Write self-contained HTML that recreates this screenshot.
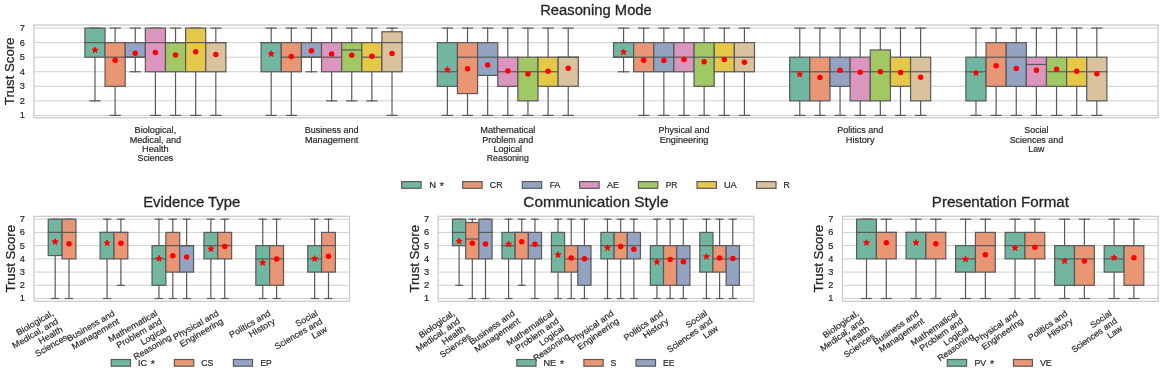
<!DOCTYPE html>
<html><head><meta charset="utf-8"><title>Trust Score boxplots</title><style>html,body{margin:0;padding:0;background:#fff;width:1163px;height:377px;overflow:hidden;position:relative}text{font-family:"Liberation Sans",sans-serif}</style></head><body>
<svg width="1163" height="377" viewBox="0 0 1163 377" style="position:absolute;left:0;top:0;will-change:transform" font-family="Liberation Sans, sans-serif">
<rect width="1163" height="377" fill="#ffffff"/>
<line x1="34.00" y1="115.40" x2="1158.00" y2="115.40" stroke="#cfcfcf" stroke-width="1"/>
<line x1="34.00" y1="100.85" x2="1158.00" y2="100.85" stroke="#cfcfcf" stroke-width="1"/>
<line x1="34.00" y1="86.30" x2="1158.00" y2="86.30" stroke="#cfcfcf" stroke-width="1"/>
<line x1="34.00" y1="71.75" x2="1158.00" y2="71.75" stroke="#cfcfcf" stroke-width="1"/>
<line x1="34.00" y1="57.20" x2="1158.00" y2="57.20" stroke="#cfcfcf" stroke-width="1"/>
<line x1="34.00" y1="42.65" x2="1158.00" y2="42.65" stroke="#cfcfcf" stroke-width="1"/>
<line x1="34.00" y1="28.10" x2="1158.00" y2="28.10" stroke="#cfcfcf" stroke-width="1"/>
<rect x="34.00" y="25.00" width="1124.00" height="92.70" fill="none" stroke="#cccccc" stroke-width="1.3"/>
<line x1="94.98" y1="57.20" x2="94.98" y2="100.85" stroke="#595959" stroke-width="1.2" stroke-linecap="square"/>
<line x1="89.95" y1="100.85" x2="100.02" y2="100.85" stroke="#595959" stroke-width="1.2" stroke-linecap="square"/>
<line x1="89.95" y1="28.10" x2="100.02" y2="28.10" stroke="#595959" stroke-width="1.2" stroke-linecap="square"/>
<rect x="84.91" y="28.10" width="20.14" height="29.10" fill="#72b6a1" stroke="#595959" stroke-width="1.2" stroke-linecap="square"/>
<line x1="84.91" y1="42.65" x2="105.05" y2="42.65" stroke="#595959" stroke-width="1.2" stroke-linecap="square"/>
<line x1="115.12" y1="86.30" x2="115.12" y2="115.40" stroke="#595959" stroke-width="1.2" stroke-linecap="square"/>
<line x1="115.12" y1="42.65" x2="115.12" y2="28.10" stroke="#595959" stroke-width="1.2" stroke-linecap="square"/>
<line x1="110.09" y1="115.40" x2="120.16" y2="115.40" stroke="#595959" stroke-width="1.2" stroke-linecap="square"/>
<line x1="110.09" y1="28.10" x2="120.16" y2="28.10" stroke="#595959" stroke-width="1.2" stroke-linecap="square"/>
<rect x="105.05" y="42.65" width="20.14" height="43.65" fill="#e99675" stroke="#595959" stroke-width="1.2" stroke-linecap="square"/>
<line x1="105.05" y1="57.20" x2="125.19" y2="57.20" stroke="#595959" stroke-width="1.2" stroke-linecap="square"/>
<line x1="135.26" y1="57.20" x2="135.26" y2="71.75" stroke="#595959" stroke-width="1.2" stroke-linecap="square"/>
<line x1="135.26" y1="42.65" x2="135.26" y2="28.10" stroke="#595959" stroke-width="1.2" stroke-linecap="square"/>
<line x1="130.22" y1="71.75" x2="140.29" y2="71.75" stroke="#595959" stroke-width="1.2" stroke-linecap="square"/>
<line x1="130.22" y1="28.10" x2="140.29" y2="28.10" stroke="#595959" stroke-width="1.2" stroke-linecap="square"/>
<rect x="125.19" y="42.65" width="20.14" height="14.55" fill="#95a3c3" stroke="#595959" stroke-width="1.2" stroke-linecap="square"/>
<line x1="125.19" y1="57.20" x2="145.33" y2="57.20" stroke="#595959" stroke-width="1.2" stroke-linecap="square"/>
<line x1="155.40" y1="71.75" x2="155.40" y2="115.40" stroke="#595959" stroke-width="1.2" stroke-linecap="square"/>
<line x1="150.37" y1="115.40" x2="160.44" y2="115.40" stroke="#595959" stroke-width="1.2" stroke-linecap="square"/>
<line x1="150.37" y1="28.10" x2="160.44" y2="28.10" stroke="#595959" stroke-width="1.2" stroke-linecap="square"/>
<rect x="145.33" y="28.10" width="20.14" height="43.65" fill="#db96c0" stroke="#595959" stroke-width="1.2" stroke-linecap="square"/>
<line x1="145.33" y1="42.65" x2="165.47" y2="42.65" stroke="#595959" stroke-width="1.2" stroke-linecap="square"/>
<line x1="175.54" y1="71.75" x2="175.54" y2="115.40" stroke="#595959" stroke-width="1.2" stroke-linecap="square"/>
<line x1="175.54" y1="42.65" x2="175.54" y2="28.10" stroke="#595959" stroke-width="1.2" stroke-linecap="square"/>
<line x1="170.51" y1="115.40" x2="180.58" y2="115.40" stroke="#595959" stroke-width="1.2" stroke-linecap="square"/>
<line x1="170.51" y1="28.10" x2="180.58" y2="28.10" stroke="#595959" stroke-width="1.2" stroke-linecap="square"/>
<rect x="165.47" y="42.65" width="20.14" height="29.10" fill="#a2c865" stroke="#595959" stroke-width="1.2" stroke-linecap="square"/>
<line x1="165.47" y1="42.65" x2="185.61" y2="42.65" stroke="#595959" stroke-width="1.2" stroke-linecap="square"/>
<line x1="195.68" y1="71.75" x2="195.68" y2="115.40" stroke="#595959" stroke-width="1.2" stroke-linecap="square"/>
<line x1="190.65" y1="115.40" x2="200.72" y2="115.40" stroke="#595959" stroke-width="1.2" stroke-linecap="square"/>
<line x1="190.65" y1="28.10" x2="200.72" y2="28.10" stroke="#595959" stroke-width="1.2" stroke-linecap="square"/>
<rect x="185.61" y="28.10" width="20.14" height="43.65" fill="#e5c849" stroke="#595959" stroke-width="1.2" stroke-linecap="square"/>
<line x1="185.61" y1="42.65" x2="205.75" y2="42.65" stroke="#595959" stroke-width="1.2" stroke-linecap="square"/>
<line x1="215.82" y1="71.75" x2="215.82" y2="115.40" stroke="#595959" stroke-width="1.2" stroke-linecap="square"/>
<line x1="215.82" y1="42.65" x2="215.82" y2="28.10" stroke="#595959" stroke-width="1.2" stroke-linecap="square"/>
<line x1="210.78" y1="115.40" x2="220.85" y2="115.40" stroke="#595959" stroke-width="1.2" stroke-linecap="square"/>
<line x1="210.78" y1="28.10" x2="220.85" y2="28.10" stroke="#595959" stroke-width="1.2" stroke-linecap="square"/>
<rect x="205.75" y="42.65" width="20.14" height="29.10" fill="#dbc29e" stroke="#595959" stroke-width="1.2" stroke-linecap="square"/>
<line x1="205.75" y1="42.65" x2="225.89" y2="42.65" stroke="#595959" stroke-width="1.2" stroke-linecap="square"/>
<polygon points="94.98,46.97 95.68,49.11 97.93,49.11 96.11,50.44 96.80,52.58 94.98,51.25 93.16,52.58 93.85,50.44 92.03,49.11 94.28,49.11" fill="#ff0000" stroke="#ff0000" stroke-width="1" stroke-linejoin="round"/>
<circle cx="115.12" cy="60.26" r="2.75" fill="#ff0000"/>
<circle cx="135.26" cy="53.13" r="2.75" fill="#ff0000"/>
<circle cx="155.40" cy="52.40" r="2.75" fill="#ff0000"/>
<circle cx="175.54" cy="55.02" r="2.75" fill="#ff0000"/>
<circle cx="195.68" cy="51.82" r="2.75" fill="#ff0000"/>
<circle cx="215.82" cy="54.44" r="2.75" fill="#ff0000"/>
<line x1="271.18" y1="71.75" x2="271.18" y2="115.40" stroke="#595959" stroke-width="1.2" stroke-linecap="square"/>
<line x1="271.18" y1="42.65" x2="271.18" y2="28.10" stroke="#595959" stroke-width="1.2" stroke-linecap="square"/>
<line x1="266.14" y1="115.40" x2="276.22" y2="115.40" stroke="#595959" stroke-width="1.2" stroke-linecap="square"/>
<line x1="266.14" y1="28.10" x2="276.22" y2="28.10" stroke="#595959" stroke-width="1.2" stroke-linecap="square"/>
<rect x="261.11" y="42.65" width="20.14" height="29.10" fill="#72b6a1" stroke="#595959" stroke-width="1.2" stroke-linecap="square"/>
<line x1="261.11" y1="42.65" x2="281.25" y2="42.65" stroke="#595959" stroke-width="1.2" stroke-linecap="square"/>
<line x1="291.32" y1="71.75" x2="291.32" y2="115.40" stroke="#595959" stroke-width="1.2" stroke-linecap="square"/>
<line x1="291.32" y1="42.65" x2="291.32" y2="28.10" stroke="#595959" stroke-width="1.2" stroke-linecap="square"/>
<line x1="286.29" y1="115.40" x2="296.36" y2="115.40" stroke="#595959" stroke-width="1.2" stroke-linecap="square"/>
<line x1="286.29" y1="28.10" x2="296.36" y2="28.10" stroke="#595959" stroke-width="1.2" stroke-linecap="square"/>
<rect x="281.25" y="42.65" width="20.14" height="29.10" fill="#e99675" stroke="#595959" stroke-width="1.2" stroke-linecap="square"/>
<line x1="281.25" y1="57.20" x2="301.39" y2="57.20" stroke="#595959" stroke-width="1.2" stroke-linecap="square"/>
<line x1="311.46" y1="57.20" x2="311.46" y2="71.75" stroke="#595959" stroke-width="1.2" stroke-linecap="square"/>
<line x1="311.46" y1="42.65" x2="311.46" y2="28.10" stroke="#595959" stroke-width="1.2" stroke-linecap="square"/>
<line x1="306.43" y1="71.75" x2="316.50" y2="71.75" stroke="#595959" stroke-width="1.2" stroke-linecap="square"/>
<line x1="306.43" y1="28.10" x2="316.50" y2="28.10" stroke="#595959" stroke-width="1.2" stroke-linecap="square"/>
<rect x="301.39" y="42.65" width="20.14" height="14.55" fill="#95a3c3" stroke="#595959" stroke-width="1.2" stroke-linecap="square"/>
<line x1="301.39" y1="57.20" x2="321.53" y2="57.20" stroke="#595959" stroke-width="1.2" stroke-linecap="square"/>
<line x1="331.60" y1="71.75" x2="331.60" y2="100.85" stroke="#595959" stroke-width="1.2" stroke-linecap="square"/>
<line x1="331.60" y1="42.65" x2="331.60" y2="28.10" stroke="#595959" stroke-width="1.2" stroke-linecap="square"/>
<line x1="326.56" y1="100.85" x2="336.64" y2="100.85" stroke="#595959" stroke-width="1.2" stroke-linecap="square"/>
<line x1="326.56" y1="28.10" x2="336.64" y2="28.10" stroke="#595959" stroke-width="1.2" stroke-linecap="square"/>
<rect x="321.53" y="42.65" width="20.14" height="29.10" fill="#db96c0" stroke="#595959" stroke-width="1.2" stroke-linecap="square"/>
<line x1="321.53" y1="57.20" x2="341.67" y2="57.20" stroke="#595959" stroke-width="1.2" stroke-linecap="square"/>
<line x1="351.74" y1="71.75" x2="351.74" y2="100.85" stroke="#595959" stroke-width="1.2" stroke-linecap="square"/>
<line x1="351.74" y1="42.65" x2="351.74" y2="28.10" stroke="#595959" stroke-width="1.2" stroke-linecap="square"/>
<line x1="346.70" y1="100.85" x2="356.78" y2="100.85" stroke="#595959" stroke-width="1.2" stroke-linecap="square"/>
<line x1="346.70" y1="28.10" x2="356.78" y2="28.10" stroke="#595959" stroke-width="1.2" stroke-linecap="square"/>
<rect x="341.67" y="42.65" width="20.14" height="29.10" fill="#a2c865" stroke="#595959" stroke-width="1.2" stroke-linecap="square"/>
<line x1="341.67" y1="49.93" x2="361.81" y2="49.93" stroke="#595959" stroke-width="1.2" stroke-linecap="square"/>
<line x1="371.88" y1="71.75" x2="371.88" y2="100.85" stroke="#595959" stroke-width="1.2" stroke-linecap="square"/>
<line x1="371.88" y1="42.65" x2="371.88" y2="28.10" stroke="#595959" stroke-width="1.2" stroke-linecap="square"/>
<line x1="366.84" y1="100.85" x2="376.92" y2="100.85" stroke="#595959" stroke-width="1.2" stroke-linecap="square"/>
<line x1="366.84" y1="28.10" x2="376.92" y2="28.10" stroke="#595959" stroke-width="1.2" stroke-linecap="square"/>
<rect x="361.81" y="42.65" width="20.14" height="29.10" fill="#e5c849" stroke="#595959" stroke-width="1.2" stroke-linecap="square"/>
<line x1="361.81" y1="57.20" x2="381.95" y2="57.20" stroke="#595959" stroke-width="1.2" stroke-linecap="square"/>
<line x1="392.02" y1="71.75" x2="392.02" y2="115.40" stroke="#595959" stroke-width="1.2" stroke-linecap="square"/>
<line x1="392.02" y1="31.74" x2="392.02" y2="28.10" stroke="#595959" stroke-width="1.2" stroke-linecap="square"/>
<line x1="386.99" y1="115.40" x2="397.06" y2="115.40" stroke="#595959" stroke-width="1.2" stroke-linecap="square"/>
<line x1="386.99" y1="28.10" x2="397.06" y2="28.10" stroke="#595959" stroke-width="1.2" stroke-linecap="square"/>
<rect x="381.95" y="31.74" width="20.14" height="40.01" fill="#dbc29e" stroke="#595959" stroke-width="1.2" stroke-linecap="square"/>
<line x1="381.95" y1="42.65" x2="402.09" y2="42.65" stroke="#595959" stroke-width="1.2" stroke-linecap="square"/>
<polygon points="271.18,50.90 271.88,53.04 274.13,53.04 272.31,54.36 273.00,56.51 271.18,55.18 269.36,56.51 270.05,54.36 268.23,53.04 270.48,53.04" fill="#ff0000" stroke="#ff0000" stroke-width="1" stroke-linejoin="round"/>
<circle cx="291.32" cy="56.62" r="2.75" fill="#ff0000"/>
<circle cx="311.46" cy="50.80" r="2.75" fill="#ff0000"/>
<circle cx="331.60" cy="54.00" r="2.75" fill="#ff0000"/>
<circle cx="351.74" cy="55.31" r="2.75" fill="#ff0000"/>
<circle cx="371.88" cy="56.33" r="2.75" fill="#ff0000"/>
<circle cx="392.02" cy="53.42" r="2.75" fill="#ff0000"/>
<line x1="447.38" y1="86.30" x2="447.38" y2="115.40" stroke="#595959" stroke-width="1.2" stroke-linecap="square"/>
<line x1="447.38" y1="42.65" x2="447.38" y2="28.10" stroke="#595959" stroke-width="1.2" stroke-linecap="square"/>
<line x1="442.34" y1="115.40" x2="452.41" y2="115.40" stroke="#595959" stroke-width="1.2" stroke-linecap="square"/>
<line x1="442.34" y1="28.10" x2="452.41" y2="28.10" stroke="#595959" stroke-width="1.2" stroke-linecap="square"/>
<rect x="437.31" y="42.65" width="20.14" height="43.65" fill="#72b6a1" stroke="#595959" stroke-width="1.2" stroke-linecap="square"/>
<line x1="437.31" y1="71.75" x2="457.45" y2="71.75" stroke="#595959" stroke-width="1.2" stroke-linecap="square"/>
<line x1="467.52" y1="93.58" x2="467.52" y2="115.40" stroke="#595959" stroke-width="1.2" stroke-linecap="square"/>
<line x1="467.52" y1="42.65" x2="467.52" y2="28.10" stroke="#595959" stroke-width="1.2" stroke-linecap="square"/>
<line x1="462.48" y1="115.40" x2="472.56" y2="115.40" stroke="#595959" stroke-width="1.2" stroke-linecap="square"/>
<line x1="462.48" y1="28.10" x2="472.56" y2="28.10" stroke="#595959" stroke-width="1.2" stroke-linecap="square"/>
<rect x="457.45" y="42.65" width="20.14" height="50.93" fill="#e99675" stroke="#595959" stroke-width="1.2" stroke-linecap="square"/>
<line x1="457.45" y1="57.20" x2="477.59" y2="57.20" stroke="#595959" stroke-width="1.2" stroke-linecap="square"/>
<line x1="487.66" y1="75.39" x2="487.66" y2="115.40" stroke="#595959" stroke-width="1.2" stroke-linecap="square"/>
<line x1="487.66" y1="42.65" x2="487.66" y2="28.10" stroke="#595959" stroke-width="1.2" stroke-linecap="square"/>
<line x1="482.62" y1="115.40" x2="492.69" y2="115.40" stroke="#595959" stroke-width="1.2" stroke-linecap="square"/>
<line x1="482.62" y1="28.10" x2="492.69" y2="28.10" stroke="#595959" stroke-width="1.2" stroke-linecap="square"/>
<rect x="477.59" y="42.65" width="20.14" height="32.74" fill="#95a3c3" stroke="#595959" stroke-width="1.2" stroke-linecap="square"/>
<line x1="477.59" y1="57.20" x2="497.73" y2="57.20" stroke="#595959" stroke-width="1.2" stroke-linecap="square"/>
<line x1="507.80" y1="86.30" x2="507.80" y2="115.40" stroke="#595959" stroke-width="1.2" stroke-linecap="square"/>
<line x1="507.80" y1="57.20" x2="507.80" y2="28.10" stroke="#595959" stroke-width="1.2" stroke-linecap="square"/>
<line x1="502.76" y1="115.40" x2="512.83" y2="115.40" stroke="#595959" stroke-width="1.2" stroke-linecap="square"/>
<line x1="502.76" y1="28.10" x2="512.83" y2="28.10" stroke="#595959" stroke-width="1.2" stroke-linecap="square"/>
<rect x="497.73" y="57.20" width="20.14" height="29.10" fill="#db96c0" stroke="#595959" stroke-width="1.2" stroke-linecap="square"/>
<line x1="497.73" y1="71.75" x2="517.87" y2="71.75" stroke="#595959" stroke-width="1.2" stroke-linecap="square"/>
<line x1="527.94" y1="100.85" x2="527.94" y2="115.40" stroke="#595959" stroke-width="1.2" stroke-linecap="square"/>
<line x1="527.94" y1="57.20" x2="527.94" y2="28.10" stroke="#595959" stroke-width="1.2" stroke-linecap="square"/>
<line x1="522.90" y1="115.40" x2="532.97" y2="115.40" stroke="#595959" stroke-width="1.2" stroke-linecap="square"/>
<line x1="522.90" y1="28.10" x2="532.97" y2="28.10" stroke="#595959" stroke-width="1.2" stroke-linecap="square"/>
<rect x="517.87" y="57.20" width="20.14" height="43.65" fill="#a2c865" stroke="#595959" stroke-width="1.2" stroke-linecap="square"/>
<line x1="517.87" y1="71.75" x2="538.01" y2="71.75" stroke="#595959" stroke-width="1.2" stroke-linecap="square"/>
<line x1="548.08" y1="86.30" x2="548.08" y2="115.40" stroke="#595959" stroke-width="1.2" stroke-linecap="square"/>
<line x1="548.08" y1="57.20" x2="548.08" y2="28.10" stroke="#595959" stroke-width="1.2" stroke-linecap="square"/>
<line x1="543.04" y1="115.40" x2="553.11" y2="115.40" stroke="#595959" stroke-width="1.2" stroke-linecap="square"/>
<line x1="543.04" y1="28.10" x2="553.11" y2="28.10" stroke="#595959" stroke-width="1.2" stroke-linecap="square"/>
<rect x="538.01" y="57.20" width="20.14" height="29.10" fill="#e5c849" stroke="#595959" stroke-width="1.2" stroke-linecap="square"/>
<line x1="538.01" y1="71.75" x2="558.15" y2="71.75" stroke="#595959" stroke-width="1.2" stroke-linecap="square"/>
<line x1="568.22" y1="86.30" x2="568.22" y2="115.40" stroke="#595959" stroke-width="1.2" stroke-linecap="square"/>
<line x1="568.22" y1="57.20" x2="568.22" y2="28.10" stroke="#595959" stroke-width="1.2" stroke-linecap="square"/>
<line x1="563.18" y1="115.40" x2="573.25" y2="115.40" stroke="#595959" stroke-width="1.2" stroke-linecap="square"/>
<line x1="563.18" y1="28.10" x2="573.25" y2="28.10" stroke="#595959" stroke-width="1.2" stroke-linecap="square"/>
<rect x="558.15" y="57.20" width="20.14" height="29.10" fill="#dbc29e" stroke="#595959" stroke-width="1.2" stroke-linecap="square"/>
<line x1="558.15" y1="57.20" x2="578.29" y2="57.20" stroke="#595959" stroke-width="1.2" stroke-linecap="square"/>
<polygon points="447.38,66.76 448.08,68.90 450.33,68.90 448.51,70.22 449.20,72.37 447.38,71.04 445.56,72.37 446.25,70.22 444.43,68.90 446.68,68.90" fill="#ff0000" stroke="#ff0000" stroke-width="1" stroke-linejoin="round"/>
<circle cx="467.52" cy="68.84" r="2.75" fill="#ff0000"/>
<circle cx="487.66" cy="65.06" r="2.75" fill="#ff0000"/>
<circle cx="507.80" cy="70.88" r="2.75" fill="#ff0000"/>
<circle cx="527.94" cy="74.08" r="2.75" fill="#ff0000"/>
<circle cx="548.08" cy="71.17" r="2.75" fill="#ff0000"/>
<circle cx="568.22" cy="68.26" r="2.75" fill="#ff0000"/>
<line x1="623.58" y1="57.20" x2="623.58" y2="71.75" stroke="#595959" stroke-width="1.2" stroke-linecap="square"/>
<line x1="623.58" y1="42.65" x2="623.58" y2="28.10" stroke="#595959" stroke-width="1.2" stroke-linecap="square"/>
<line x1="618.54" y1="71.75" x2="628.61" y2="71.75" stroke="#595959" stroke-width="1.2" stroke-linecap="square"/>
<line x1="618.54" y1="28.10" x2="628.61" y2="28.10" stroke="#595959" stroke-width="1.2" stroke-linecap="square"/>
<rect x="613.51" y="42.65" width="20.14" height="14.55" fill="#72b6a1" stroke="#595959" stroke-width="1.2" stroke-linecap="square"/>
<line x1="613.51" y1="57.20" x2="633.65" y2="57.20" stroke="#595959" stroke-width="1.2" stroke-linecap="square"/>
<line x1="643.72" y1="71.75" x2="643.72" y2="115.40" stroke="#595959" stroke-width="1.2" stroke-linecap="square"/>
<line x1="643.72" y1="42.65" x2="643.72" y2="28.10" stroke="#595959" stroke-width="1.2" stroke-linecap="square"/>
<line x1="638.68" y1="115.40" x2="648.75" y2="115.40" stroke="#595959" stroke-width="1.2" stroke-linecap="square"/>
<line x1="638.68" y1="28.10" x2="648.75" y2="28.10" stroke="#595959" stroke-width="1.2" stroke-linecap="square"/>
<rect x="633.65" y="42.65" width="20.14" height="29.10" fill="#e99675" stroke="#595959" stroke-width="1.2" stroke-linecap="square"/>
<line x1="633.65" y1="57.20" x2="653.79" y2="57.20" stroke="#595959" stroke-width="1.2" stroke-linecap="square"/>
<line x1="663.86" y1="71.75" x2="663.86" y2="115.40" stroke="#595959" stroke-width="1.2" stroke-linecap="square"/>
<line x1="663.86" y1="42.65" x2="663.86" y2="28.10" stroke="#595959" stroke-width="1.2" stroke-linecap="square"/>
<line x1="658.82" y1="115.40" x2="668.89" y2="115.40" stroke="#595959" stroke-width="1.2" stroke-linecap="square"/>
<line x1="658.82" y1="28.10" x2="668.89" y2="28.10" stroke="#595959" stroke-width="1.2" stroke-linecap="square"/>
<rect x="653.79" y="42.65" width="20.14" height="29.10" fill="#95a3c3" stroke="#595959" stroke-width="1.2" stroke-linecap="square"/>
<line x1="653.79" y1="57.20" x2="673.93" y2="57.20" stroke="#595959" stroke-width="1.2" stroke-linecap="square"/>
<line x1="684.00" y1="71.75" x2="684.00" y2="115.40" stroke="#595959" stroke-width="1.2" stroke-linecap="square"/>
<line x1="684.00" y1="42.65" x2="684.00" y2="28.10" stroke="#595959" stroke-width="1.2" stroke-linecap="square"/>
<line x1="678.96" y1="115.40" x2="689.03" y2="115.40" stroke="#595959" stroke-width="1.2" stroke-linecap="square"/>
<line x1="678.96" y1="28.10" x2="689.03" y2="28.10" stroke="#595959" stroke-width="1.2" stroke-linecap="square"/>
<rect x="673.93" y="42.65" width="20.14" height="29.10" fill="#db96c0" stroke="#595959" stroke-width="1.2" stroke-linecap="square"/>
<line x1="673.93" y1="57.20" x2="694.07" y2="57.20" stroke="#595959" stroke-width="1.2" stroke-linecap="square"/>
<line x1="704.14" y1="86.30" x2="704.14" y2="115.40" stroke="#595959" stroke-width="1.2" stroke-linecap="square"/>
<line x1="704.14" y1="42.65" x2="704.14" y2="28.10" stroke="#595959" stroke-width="1.2" stroke-linecap="square"/>
<line x1="699.10" y1="115.40" x2="709.17" y2="115.40" stroke="#595959" stroke-width="1.2" stroke-linecap="square"/>
<line x1="699.10" y1="28.10" x2="709.17" y2="28.10" stroke="#595959" stroke-width="1.2" stroke-linecap="square"/>
<rect x="694.07" y="42.65" width="20.14" height="43.65" fill="#a2c865" stroke="#595959" stroke-width="1.2" stroke-linecap="square"/>
<line x1="694.07" y1="57.20" x2="714.21" y2="57.20" stroke="#595959" stroke-width="1.2" stroke-linecap="square"/>
<line x1="724.28" y1="71.75" x2="724.28" y2="115.40" stroke="#595959" stroke-width="1.2" stroke-linecap="square"/>
<line x1="724.28" y1="42.65" x2="724.28" y2="28.10" stroke="#595959" stroke-width="1.2" stroke-linecap="square"/>
<line x1="719.24" y1="115.40" x2="729.31" y2="115.40" stroke="#595959" stroke-width="1.2" stroke-linecap="square"/>
<line x1="719.24" y1="28.10" x2="729.31" y2="28.10" stroke="#595959" stroke-width="1.2" stroke-linecap="square"/>
<rect x="714.21" y="42.65" width="20.14" height="29.10" fill="#e5c849" stroke="#595959" stroke-width="1.2" stroke-linecap="square"/>
<line x1="714.21" y1="57.20" x2="734.35" y2="57.20" stroke="#595959" stroke-width="1.2" stroke-linecap="square"/>
<line x1="744.42" y1="71.75" x2="744.42" y2="115.40" stroke="#595959" stroke-width="1.2" stroke-linecap="square"/>
<line x1="744.42" y1="42.65" x2="744.42" y2="28.10" stroke="#595959" stroke-width="1.2" stroke-linecap="square"/>
<line x1="739.38" y1="115.40" x2="749.45" y2="115.40" stroke="#595959" stroke-width="1.2" stroke-linecap="square"/>
<line x1="739.38" y1="28.10" x2="749.45" y2="28.10" stroke="#595959" stroke-width="1.2" stroke-linecap="square"/>
<rect x="734.35" y="42.65" width="20.14" height="29.10" fill="#dbc29e" stroke="#595959" stroke-width="1.2" stroke-linecap="square"/>
<line x1="734.35" y1="57.20" x2="754.49" y2="57.20" stroke="#595959" stroke-width="1.2" stroke-linecap="square"/>
<polygon points="623.58,49.01 624.28,51.15 626.53,51.15 624.71,52.47 625.40,54.62 623.58,53.29 621.76,54.62 622.45,52.47 620.63,51.15 622.88,51.15" fill="#ff0000" stroke="#ff0000" stroke-width="1" stroke-linejoin="round"/>
<circle cx="643.72" cy="60.26" r="2.75" fill="#ff0000"/>
<circle cx="663.86" cy="60.55" r="2.75" fill="#ff0000"/>
<circle cx="684.00" cy="59.53" r="2.75" fill="#ff0000"/>
<circle cx="704.14" cy="61.86" r="2.75" fill="#ff0000"/>
<circle cx="724.28" cy="59.53" r="2.75" fill="#ff0000"/>
<circle cx="744.42" cy="62.29" r="2.75" fill="#ff0000"/>
<line x1="799.78" y1="100.85" x2="799.78" y2="115.40" stroke="#595959" stroke-width="1.2" stroke-linecap="square"/>
<line x1="799.78" y1="57.20" x2="799.78" y2="28.10" stroke="#595959" stroke-width="1.2" stroke-linecap="square"/>
<line x1="794.75" y1="115.40" x2="804.81" y2="115.40" stroke="#595959" stroke-width="1.2" stroke-linecap="square"/>
<line x1="794.75" y1="28.10" x2="804.81" y2="28.10" stroke="#595959" stroke-width="1.2" stroke-linecap="square"/>
<rect x="789.71" y="57.20" width="20.14" height="43.65" fill="#72b6a1" stroke="#595959" stroke-width="1.2" stroke-linecap="square"/>
<line x1="789.71" y1="71.75" x2="809.85" y2="71.75" stroke="#595959" stroke-width="1.2" stroke-linecap="square"/>
<line x1="819.92" y1="100.85" x2="819.92" y2="115.40" stroke="#595959" stroke-width="1.2" stroke-linecap="square"/>
<line x1="819.92" y1="57.20" x2="819.92" y2="28.10" stroke="#595959" stroke-width="1.2" stroke-linecap="square"/>
<line x1="814.88" y1="115.40" x2="824.95" y2="115.40" stroke="#595959" stroke-width="1.2" stroke-linecap="square"/>
<line x1="814.88" y1="28.10" x2="824.95" y2="28.10" stroke="#595959" stroke-width="1.2" stroke-linecap="square"/>
<rect x="809.85" y="57.20" width="20.14" height="43.65" fill="#e99675" stroke="#595959" stroke-width="1.2" stroke-linecap="square"/>
<line x1="809.85" y1="71.75" x2="829.99" y2="71.75" stroke="#595959" stroke-width="1.2" stroke-linecap="square"/>
<line x1="840.06" y1="86.30" x2="840.06" y2="115.40" stroke="#595959" stroke-width="1.2" stroke-linecap="square"/>
<line x1="840.06" y1="57.20" x2="840.06" y2="28.10" stroke="#595959" stroke-width="1.2" stroke-linecap="square"/>
<line x1="835.02" y1="115.40" x2="845.09" y2="115.40" stroke="#595959" stroke-width="1.2" stroke-linecap="square"/>
<line x1="835.02" y1="28.10" x2="845.09" y2="28.10" stroke="#595959" stroke-width="1.2" stroke-linecap="square"/>
<rect x="829.99" y="57.20" width="20.14" height="29.10" fill="#95a3c3" stroke="#595959" stroke-width="1.2" stroke-linecap="square"/>
<line x1="829.99" y1="71.75" x2="850.13" y2="71.75" stroke="#595959" stroke-width="1.2" stroke-linecap="square"/>
<line x1="860.20" y1="100.85" x2="860.20" y2="115.40" stroke="#595959" stroke-width="1.2" stroke-linecap="square"/>
<line x1="860.20" y1="57.20" x2="860.20" y2="28.10" stroke="#595959" stroke-width="1.2" stroke-linecap="square"/>
<line x1="855.16" y1="115.40" x2="865.23" y2="115.40" stroke="#595959" stroke-width="1.2" stroke-linecap="square"/>
<line x1="855.16" y1="28.10" x2="865.23" y2="28.10" stroke="#595959" stroke-width="1.2" stroke-linecap="square"/>
<rect x="850.13" y="57.20" width="20.14" height="43.65" fill="#db96c0" stroke="#595959" stroke-width="1.2" stroke-linecap="square"/>
<line x1="850.13" y1="71.75" x2="870.27" y2="71.75" stroke="#595959" stroke-width="1.2" stroke-linecap="square"/>
<line x1="880.34" y1="100.85" x2="880.34" y2="115.40" stroke="#595959" stroke-width="1.2" stroke-linecap="square"/>
<line x1="880.34" y1="49.93" x2="880.34" y2="28.10" stroke="#595959" stroke-width="1.2" stroke-linecap="square"/>
<line x1="875.30" y1="115.40" x2="885.37" y2="115.40" stroke="#595959" stroke-width="1.2" stroke-linecap="square"/>
<line x1="875.30" y1="28.10" x2="885.37" y2="28.10" stroke="#595959" stroke-width="1.2" stroke-linecap="square"/>
<rect x="870.27" y="49.93" width="20.14" height="50.92" fill="#a2c865" stroke="#595959" stroke-width="1.2" stroke-linecap="square"/>
<line x1="870.27" y1="71.75" x2="890.41" y2="71.75" stroke="#595959" stroke-width="1.2" stroke-linecap="square"/>
<line x1="900.48" y1="86.30" x2="900.48" y2="115.40" stroke="#595959" stroke-width="1.2" stroke-linecap="square"/>
<line x1="900.48" y1="57.20" x2="900.48" y2="28.10" stroke="#595959" stroke-width="1.2" stroke-linecap="square"/>
<line x1="895.44" y1="115.40" x2="905.51" y2="115.40" stroke="#595959" stroke-width="1.2" stroke-linecap="square"/>
<line x1="895.44" y1="28.10" x2="905.51" y2="28.10" stroke="#595959" stroke-width="1.2" stroke-linecap="square"/>
<rect x="890.41" y="57.20" width="20.14" height="29.10" fill="#e5c849" stroke="#595959" stroke-width="1.2" stroke-linecap="square"/>
<line x1="890.41" y1="71.75" x2="910.55" y2="71.75" stroke="#595959" stroke-width="1.2" stroke-linecap="square"/>
<line x1="920.62" y1="100.85" x2="920.62" y2="115.40" stroke="#595959" stroke-width="1.2" stroke-linecap="square"/>
<line x1="920.62" y1="57.20" x2="920.62" y2="28.10" stroke="#595959" stroke-width="1.2" stroke-linecap="square"/>
<line x1="915.58" y1="115.40" x2="925.65" y2="115.40" stroke="#595959" stroke-width="1.2" stroke-linecap="square"/>
<line x1="915.58" y1="28.10" x2="925.65" y2="28.10" stroke="#595959" stroke-width="1.2" stroke-linecap="square"/>
<rect x="910.55" y="57.20" width="20.14" height="43.65" fill="#dbc29e" stroke="#595959" stroke-width="1.2" stroke-linecap="square"/>
<line x1="910.55" y1="71.75" x2="930.69" y2="71.75" stroke="#595959" stroke-width="1.2" stroke-linecap="square"/>
<polygon points="799.78,71.27 800.48,73.41 802.73,73.41 800.91,74.73 801.60,76.88 799.78,75.55 797.96,76.88 798.65,74.73 796.83,73.41 799.08,73.41" fill="#ff0000" stroke="#ff0000" stroke-width="1" stroke-linejoin="round"/>
<circle cx="819.92" cy="77.42" r="2.75" fill="#ff0000"/>
<circle cx="840.06" cy="70.30" r="2.75" fill="#ff0000"/>
<circle cx="860.20" cy="72.33" r="2.75" fill="#ff0000"/>
<circle cx="880.34" cy="71.75" r="2.75" fill="#ff0000"/>
<circle cx="900.48" cy="72.48" r="2.75" fill="#ff0000"/>
<circle cx="920.62" cy="77.28" r="2.75" fill="#ff0000"/>
<line x1="975.98" y1="100.85" x2="975.98" y2="115.40" stroke="#595959" stroke-width="1.2" stroke-linecap="square"/>
<line x1="975.98" y1="57.20" x2="975.98" y2="28.10" stroke="#595959" stroke-width="1.2" stroke-linecap="square"/>
<line x1="970.95" y1="115.40" x2="981.02" y2="115.40" stroke="#595959" stroke-width="1.2" stroke-linecap="square"/>
<line x1="970.95" y1="28.10" x2="981.02" y2="28.10" stroke="#595959" stroke-width="1.2" stroke-linecap="square"/>
<rect x="965.91" y="57.20" width="20.14" height="43.65" fill="#72b6a1" stroke="#595959" stroke-width="1.2" stroke-linecap="square"/>
<line x1="965.91" y1="71.75" x2="986.05" y2="71.75" stroke="#595959" stroke-width="1.2" stroke-linecap="square"/>
<line x1="996.12" y1="86.30" x2="996.12" y2="115.40" stroke="#595959" stroke-width="1.2" stroke-linecap="square"/>
<line x1="996.12" y1="42.65" x2="996.12" y2="28.10" stroke="#595959" stroke-width="1.2" stroke-linecap="square"/>
<line x1="991.09" y1="115.40" x2="1001.16" y2="115.40" stroke="#595959" stroke-width="1.2" stroke-linecap="square"/>
<line x1="991.09" y1="28.10" x2="1001.16" y2="28.10" stroke="#595959" stroke-width="1.2" stroke-linecap="square"/>
<rect x="986.05" y="42.65" width="20.14" height="43.65" fill="#e99675" stroke="#595959" stroke-width="1.2" stroke-linecap="square"/>
<line x1="986.05" y1="57.20" x2="1006.19" y2="57.20" stroke="#595959" stroke-width="1.2" stroke-linecap="square"/>
<line x1="1016.26" y1="86.30" x2="1016.26" y2="115.40" stroke="#595959" stroke-width="1.2" stroke-linecap="square"/>
<line x1="1016.26" y1="42.65" x2="1016.26" y2="28.10" stroke="#595959" stroke-width="1.2" stroke-linecap="square"/>
<line x1="1011.23" y1="115.40" x2="1021.30" y2="115.40" stroke="#595959" stroke-width="1.2" stroke-linecap="square"/>
<line x1="1011.23" y1="28.10" x2="1021.30" y2="28.10" stroke="#595959" stroke-width="1.2" stroke-linecap="square"/>
<rect x="1006.19" y="42.65" width="20.14" height="43.65" fill="#95a3c3" stroke="#595959" stroke-width="1.2" stroke-linecap="square"/>
<line x1="1006.19" y1="57.20" x2="1026.33" y2="57.20" stroke="#595959" stroke-width="1.2" stroke-linecap="square"/>
<line x1="1036.40" y1="86.30" x2="1036.40" y2="115.40" stroke="#595959" stroke-width="1.2" stroke-linecap="square"/>
<line x1="1036.40" y1="57.20" x2="1036.40" y2="28.10" stroke="#595959" stroke-width="1.2" stroke-linecap="square"/>
<line x1="1031.37" y1="115.40" x2="1041.44" y2="115.40" stroke="#595959" stroke-width="1.2" stroke-linecap="square"/>
<line x1="1031.37" y1="28.10" x2="1041.44" y2="28.10" stroke="#595959" stroke-width="1.2" stroke-linecap="square"/>
<rect x="1026.33" y="57.20" width="20.14" height="29.10" fill="#db96c0" stroke="#595959" stroke-width="1.2" stroke-linecap="square"/>
<line x1="1026.33" y1="64.47" x2="1046.47" y2="64.47" stroke="#595959" stroke-width="1.2" stroke-linecap="square"/>
<line x1="1056.54" y1="86.30" x2="1056.54" y2="115.40" stroke="#595959" stroke-width="1.2" stroke-linecap="square"/>
<line x1="1056.54" y1="57.20" x2="1056.54" y2="28.10" stroke="#595959" stroke-width="1.2" stroke-linecap="square"/>
<line x1="1051.51" y1="115.40" x2="1061.58" y2="115.40" stroke="#595959" stroke-width="1.2" stroke-linecap="square"/>
<line x1="1051.51" y1="28.10" x2="1061.58" y2="28.10" stroke="#595959" stroke-width="1.2" stroke-linecap="square"/>
<rect x="1046.47" y="57.20" width="20.14" height="29.10" fill="#a2c865" stroke="#595959" stroke-width="1.2" stroke-linecap="square"/>
<line x1="1046.47" y1="71.75" x2="1066.61" y2="71.75" stroke="#595959" stroke-width="1.2" stroke-linecap="square"/>
<line x1="1076.68" y1="86.30" x2="1076.68" y2="115.40" stroke="#595959" stroke-width="1.2" stroke-linecap="square"/>
<line x1="1076.68" y1="57.20" x2="1076.68" y2="28.10" stroke="#595959" stroke-width="1.2" stroke-linecap="square"/>
<line x1="1071.64" y1="115.40" x2="1081.72" y2="115.40" stroke="#595959" stroke-width="1.2" stroke-linecap="square"/>
<line x1="1071.64" y1="28.10" x2="1081.72" y2="28.10" stroke="#595959" stroke-width="1.2" stroke-linecap="square"/>
<rect x="1066.61" y="57.20" width="20.14" height="29.10" fill="#e5c849" stroke="#595959" stroke-width="1.2" stroke-linecap="square"/>
<line x1="1066.61" y1="71.75" x2="1086.75" y2="71.75" stroke="#595959" stroke-width="1.2" stroke-linecap="square"/>
<line x1="1096.82" y1="100.85" x2="1096.82" y2="115.40" stroke="#595959" stroke-width="1.2" stroke-linecap="square"/>
<line x1="1096.82" y1="57.20" x2="1096.82" y2="28.10" stroke="#595959" stroke-width="1.2" stroke-linecap="square"/>
<line x1="1091.79" y1="115.40" x2="1101.86" y2="115.40" stroke="#595959" stroke-width="1.2" stroke-linecap="square"/>
<line x1="1091.79" y1="28.10" x2="1101.86" y2="28.10" stroke="#595959" stroke-width="1.2" stroke-linecap="square"/>
<rect x="1086.75" y="57.20" width="20.14" height="43.65" fill="#dbc29e" stroke="#595959" stroke-width="1.2" stroke-linecap="square"/>
<line x1="1086.75" y1="71.75" x2="1106.89" y2="71.75" stroke="#595959" stroke-width="1.2" stroke-linecap="square"/>
<polygon points="975.98,69.96 976.68,72.10 978.93,72.10 977.11,73.43 977.80,75.57 975.98,74.24 974.16,75.57 974.85,73.43 973.03,72.10 975.28,72.10" fill="#ff0000" stroke="#ff0000" stroke-width="1" stroke-linejoin="round"/>
<circle cx="996.12" cy="65.64" r="2.75" fill="#ff0000"/>
<circle cx="1016.26" cy="68.55" r="2.75" fill="#ff0000"/>
<circle cx="1036.40" cy="70.15" r="2.75" fill="#ff0000"/>
<circle cx="1056.54" cy="69.28" r="2.75" fill="#ff0000"/>
<circle cx="1076.68" cy="71.17" r="2.75" fill="#ff0000"/>
<circle cx="1096.82" cy="73.64" r="2.75" fill="#ff0000"/>
<text x="596.00" y="15.10" font-size="14.02" text-anchor="middle" textLength="111.56" lengthAdjust="spacingAndGlyphs" fill="#262626" stroke="#262626" stroke-width="0.298" >Reasoning Mode</text>
<text x="24.90" y="118.35" font-size="8.59" text-anchor="end" textLength="5.15" lengthAdjust="spacingAndGlyphs" fill="#262626" stroke="#262626" stroke-width="0.178" >1</text>
<text x="24.90" y="103.80" font-size="8.59" text-anchor="end" textLength="5.15" lengthAdjust="spacingAndGlyphs" fill="#262626" stroke="#262626" stroke-width="0.178" >2</text>
<text x="24.90" y="89.25" font-size="8.59" text-anchor="end" textLength="5.15" lengthAdjust="spacingAndGlyphs" fill="#262626" stroke="#262626" stroke-width="0.178" >3</text>
<text x="24.90" y="74.70" font-size="8.59" text-anchor="end" textLength="5.15" lengthAdjust="spacingAndGlyphs" fill="#262626" stroke="#262626" stroke-width="0.178" >4</text>
<text x="24.90" y="60.15" font-size="8.59" text-anchor="end" textLength="5.15" lengthAdjust="spacingAndGlyphs" fill="#262626" stroke="#262626" stroke-width="0.178" >5</text>
<text x="24.90" y="45.60" font-size="8.59" text-anchor="end" textLength="5.15" lengthAdjust="spacingAndGlyphs" fill="#262626" stroke="#262626" stroke-width="0.178" >6</text>
<text x="24.90" y="31.05" font-size="8.59" text-anchor="end" textLength="5.15" lengthAdjust="spacingAndGlyphs" fill="#262626" stroke="#262626" stroke-width="0.178" >7</text>
<text x="0" y="0" transform="translate(13.90,71.35) rotate(-90)" font-size="12.93" text-anchor="middle" textLength="67.60" lengthAdjust="spacingAndGlyphs" fill="#262626" stroke="#262626" stroke-width="0.268">Trust Score</text>
<text x="155.40" y="133.10" font-size="8.59" text-anchor="middle" textLength="41.60" lengthAdjust="spacingAndGlyphs" fill="#262626" stroke="#262626" stroke-width="0.178" >Biological,</text>
<text x="155.40" y="143.00" font-size="8.59" text-anchor="middle" textLength="51.42" lengthAdjust="spacingAndGlyphs" fill="#262626" stroke="#262626" stroke-width="0.178" >Medical, and</text>
<text x="155.40" y="151.70" font-size="8.59" text-anchor="middle" textLength="26.60" lengthAdjust="spacingAndGlyphs" fill="#262626" stroke="#262626" stroke-width="0.178" >Health</text>
<text x="155.40" y="161.00" font-size="8.59" text-anchor="middle" textLength="35.62" lengthAdjust="spacingAndGlyphs" fill="#262626" stroke="#262626" stroke-width="0.178" >Sciences</text>
<text x="331.60" y="133.10" font-size="8.59" text-anchor="middle" textLength="53.53" lengthAdjust="spacingAndGlyphs" fill="#262626" stroke="#262626" stroke-width="0.178" >Business and</text>
<text x="331.60" y="143.00" font-size="8.59" text-anchor="middle" textLength="53.36" lengthAdjust="spacingAndGlyphs" fill="#262626" stroke="#262626" stroke-width="0.178" >Management</text>
<text x="507.80" y="133.10" font-size="8.59" text-anchor="middle" textLength="55.19" lengthAdjust="spacingAndGlyphs" fill="#262626" stroke="#262626" stroke-width="0.178" >Mathematical</text>
<text x="507.80" y="143.00" font-size="8.59" text-anchor="middle" textLength="50.93" lengthAdjust="spacingAndGlyphs" fill="#262626" stroke="#262626" stroke-width="0.178" >Problem and</text>
<text x="507.80" y="151.70" font-size="8.59" text-anchor="middle" textLength="28.39" lengthAdjust="spacingAndGlyphs" fill="#262626" stroke="#262626" stroke-width="0.178" >Logical</text>
<text x="507.80" y="161.00" font-size="8.59" text-anchor="middle" textLength="42.05" lengthAdjust="spacingAndGlyphs" fill="#262626" stroke="#262626" stroke-width="0.178" >Reasoning</text>
<text x="684.00" y="133.10" font-size="8.59" text-anchor="middle" textLength="50.76" lengthAdjust="spacingAndGlyphs" fill="#262626" stroke="#262626" stroke-width="0.178" >Physical and</text>
<text x="684.00" y="143.00" font-size="8.59" text-anchor="middle" textLength="48.60" lengthAdjust="spacingAndGlyphs" fill="#262626" stroke="#262626" stroke-width="0.178" >Engineering</text>
<text x="860.20" y="133.10" font-size="8.59" text-anchor="middle" textLength="45.97" lengthAdjust="spacingAndGlyphs" fill="#262626" stroke="#262626" stroke-width="0.178" >Politics and</text>
<text x="860.20" y="143.00" font-size="8.59" text-anchor="middle" textLength="28.82" lengthAdjust="spacingAndGlyphs" fill="#262626" stroke="#262626" stroke-width="0.178" >History</text>
<text x="1036.40" y="133.10" font-size="8.59" text-anchor="middle" textLength="24.02" lengthAdjust="spacingAndGlyphs" fill="#262626" stroke="#262626" stroke-width="0.178" >Social</text>
<text x="1036.40" y="143.00" font-size="8.59" text-anchor="middle" textLength="53.43" lengthAdjust="spacingAndGlyphs" fill="#262626" stroke="#262626" stroke-width="0.178" >Sciences and</text>
<text x="1036.40" y="151.70" font-size="8.59" text-anchor="middle" textLength="16.10" lengthAdjust="spacingAndGlyphs" fill="#262626" stroke="#262626" stroke-width="0.178" >Law</text>
<rect x="401.70" y="181.60" width="19.40" height="6.70" fill="#72b6a1" stroke="#595959" stroke-width="1.2"/>
<text x="429.30" y="188.20" font-size="9.65" text-anchor="start" textLength="6.81" lengthAdjust="spacingAndGlyphs" fill="#262626" stroke="#262626" stroke-width="0.200" >N</text>
<text x="439.58" y="190.00" font-size="11.56" fill="#262626" stroke="#262626" stroke-width="0.15">*</text>
<rect x="462.70" y="181.60" width="19.40" height="6.70" fill="#e99675" stroke="#595959" stroke-width="1.2"/>
<text x="489.80" y="188.20" font-size="9.65" text-anchor="start" textLength="12.68" lengthAdjust="spacingAndGlyphs" fill="#262626" stroke="#262626" stroke-width="0.200" >CR</text>
<rect x="522.30" y="181.60" width="19.40" height="6.70" fill="#95a3c3" stroke="#595959" stroke-width="1.2"/>
<text x="549.70" y="188.20" font-size="9.65" text-anchor="start" textLength="10.62" lengthAdjust="spacingAndGlyphs" fill="#262626" stroke="#262626" stroke-width="0.200" >FA</text>
<rect x="579.70" y="181.60" width="19.40" height="6.70" fill="#db96c0" stroke="#595959" stroke-width="1.2"/>
<text x="607.10" y="188.20" font-size="9.65" text-anchor="start" textLength="11.97" lengthAdjust="spacingAndGlyphs" fill="#262626" stroke="#262626" stroke-width="0.200" >AE</text>
<rect x="638.40" y="181.60" width="19.40" height="6.70" fill="#a2c865" stroke="#595959" stroke-width="1.2"/>
<text x="665.70" y="188.20" font-size="9.65" text-anchor="start" textLength="11.81" lengthAdjust="spacingAndGlyphs" fill="#262626" stroke="#262626" stroke-width="0.200" >PR</text>
<rect x="697.00" y="181.60" width="19.40" height="6.70" fill="#e5c849" stroke="#595959" stroke-width="1.2"/>
<text x="723.90" y="188.20" font-size="9.65" text-anchor="start" textLength="12.89" lengthAdjust="spacingAndGlyphs" fill="#262626" stroke="#262626" stroke-width="0.200" >UA</text>
<rect x="756.60" y="181.60" width="19.40" height="6.70" fill="#dbc29e" stroke="#595959" stroke-width="1.2"/>
<text x="783.50" y="188.20" font-size="9.65" text-anchor="start" textLength="6.32" lengthAdjust="spacingAndGlyphs" fill="#262626" stroke="#262626" stroke-width="0.200" >R</text>
<line x1="34.00" y1="298.52" x2="349.50" y2="298.52" stroke="#cfcfcf" stroke-width="1"/>
<line x1="34.00" y1="285.30" x2="349.50" y2="285.30" stroke="#cfcfcf" stroke-width="1"/>
<line x1="34.00" y1="272.08" x2="349.50" y2="272.08" stroke="#cfcfcf" stroke-width="1"/>
<line x1="34.00" y1="258.86" x2="349.50" y2="258.86" stroke="#cfcfcf" stroke-width="1"/>
<line x1="34.00" y1="245.64" x2="349.50" y2="245.64" stroke="#cfcfcf" stroke-width="1"/>
<line x1="34.00" y1="232.42" x2="349.50" y2="232.42" stroke="#cfcfcf" stroke-width="1"/>
<line x1="34.00" y1="219.20" x2="349.50" y2="219.20" stroke="#cfcfcf" stroke-width="1"/>
<rect x="34.00" y="216.30" width="315.50" height="85.00" fill="none" stroke="#cccccc" stroke-width="1.3"/>
<line x1="55.16" y1="255.56" x2="55.16" y2="298.52" stroke="#595959" stroke-width="1.2" stroke-linecap="square"/>
<line x1="51.70" y1="298.52" x2="58.62" y2="298.52" stroke="#595959" stroke-width="1.2" stroke-linecap="square"/>
<line x1="51.70" y1="219.20" x2="58.62" y2="219.20" stroke="#595959" stroke-width="1.2" stroke-linecap="square"/>
<rect x="48.24" y="219.20" width="13.84" height="36.36" fill="#72b6a1" stroke="#595959" stroke-width="1.2" stroke-linecap="square"/>
<line x1="48.24" y1="232.42" x2="62.08" y2="232.42" stroke="#595959" stroke-width="1.2" stroke-linecap="square"/>
<line x1="69.00" y1="258.86" x2="69.00" y2="298.52" stroke="#595959" stroke-width="1.2" stroke-linecap="square"/>
<line x1="65.54" y1="298.52" x2="72.46" y2="298.52" stroke="#595959" stroke-width="1.2" stroke-linecap="square"/>
<line x1="65.54" y1="219.20" x2="72.46" y2="219.20" stroke="#595959" stroke-width="1.2" stroke-linecap="square"/>
<rect x="62.08" y="219.20" width="13.84" height="39.66" fill="#e99675" stroke="#595959" stroke-width="1.2" stroke-linecap="square"/>
<line x1="62.08" y1="232.42" x2="75.92" y2="232.42" stroke="#595959" stroke-width="1.2" stroke-linecap="square"/>
<polygon points="55.16,238.71 55.86,240.85 58.11,240.85 56.29,242.17 56.98,244.31 55.16,242.99 53.34,244.31 54.03,242.17 52.21,240.85 54.46,240.85" fill="#ff0000" stroke="#ff0000" stroke-width="1" stroke-linejoin="round"/>
<circle cx="69.00" cy="243.66" r="2.75" fill="#ff0000"/>
<line x1="107.06" y1="258.86" x2="107.06" y2="298.52" stroke="#595959" stroke-width="1.2" stroke-linecap="square"/>
<line x1="107.06" y1="232.42" x2="107.06" y2="219.20" stroke="#595959" stroke-width="1.2" stroke-linecap="square"/>
<line x1="103.60" y1="298.52" x2="110.52" y2="298.52" stroke="#595959" stroke-width="1.2" stroke-linecap="square"/>
<line x1="103.60" y1="219.20" x2="110.52" y2="219.20" stroke="#595959" stroke-width="1.2" stroke-linecap="square"/>
<rect x="100.14" y="232.42" width="13.84" height="26.44" fill="#72b6a1" stroke="#595959" stroke-width="1.2" stroke-linecap="square"/>
<line x1="100.14" y1="232.42" x2="113.98" y2="232.42" stroke="#595959" stroke-width="1.2" stroke-linecap="square"/>
<line x1="120.90" y1="258.86" x2="120.90" y2="285.30" stroke="#595959" stroke-width="1.2" stroke-linecap="square"/>
<line x1="120.90" y1="232.42" x2="120.90" y2="219.20" stroke="#595959" stroke-width="1.2" stroke-linecap="square"/>
<line x1="117.44" y1="285.30" x2="124.36" y2="285.30" stroke="#595959" stroke-width="1.2" stroke-linecap="square"/>
<line x1="117.44" y1="219.20" x2="124.36" y2="219.20" stroke="#595959" stroke-width="1.2" stroke-linecap="square"/>
<rect x="113.98" y="232.42" width="13.84" height="26.44" fill="#e99675" stroke="#595959" stroke-width="1.2" stroke-linecap="square"/>
<line x1="113.98" y1="232.42" x2="127.82" y2="232.42" stroke="#595959" stroke-width="1.2" stroke-linecap="square"/>
<polygon points="107.06,240.03 107.76,242.17 110.01,242.17 108.19,243.49 108.88,245.64 107.06,244.31 105.24,245.64 105.93,243.49 104.11,242.17 106.36,242.17" fill="#ff0000" stroke="#ff0000" stroke-width="1" stroke-linejoin="round"/>
<circle cx="120.90" cy="243.13" r="2.75" fill="#ff0000"/>
<line x1="158.96" y1="285.30" x2="158.96" y2="298.52" stroke="#595959" stroke-width="1.2" stroke-linecap="square"/>
<line x1="158.96" y1="245.64" x2="158.96" y2="219.20" stroke="#595959" stroke-width="1.2" stroke-linecap="square"/>
<line x1="155.50" y1="298.52" x2="162.42" y2="298.52" stroke="#595959" stroke-width="1.2" stroke-linecap="square"/>
<line x1="155.50" y1="219.20" x2="162.42" y2="219.20" stroke="#595959" stroke-width="1.2" stroke-linecap="square"/>
<rect x="152.04" y="245.64" width="13.84" height="39.66" fill="#72b6a1" stroke="#595959" stroke-width="1.2" stroke-linecap="square"/>
<line x1="152.04" y1="258.86" x2="165.88" y2="258.86" stroke="#595959" stroke-width="1.2" stroke-linecap="square"/>
<line x1="172.80" y1="272.08" x2="172.80" y2="298.52" stroke="#595959" stroke-width="1.2" stroke-linecap="square"/>
<line x1="172.80" y1="232.42" x2="172.80" y2="219.20" stroke="#595959" stroke-width="1.2" stroke-linecap="square"/>
<line x1="169.34" y1="298.52" x2="176.26" y2="298.52" stroke="#595959" stroke-width="1.2" stroke-linecap="square"/>
<line x1="169.34" y1="219.20" x2="176.26" y2="219.20" stroke="#595959" stroke-width="1.2" stroke-linecap="square"/>
<rect x="165.88" y="232.42" width="13.84" height="39.66" fill="#e99675" stroke="#595959" stroke-width="1.2" stroke-linecap="square"/>
<line x1="165.88" y1="245.64" x2="179.72" y2="245.64" stroke="#595959" stroke-width="1.2" stroke-linecap="square"/>
<line x1="186.64" y1="272.08" x2="186.64" y2="298.52" stroke="#595959" stroke-width="1.2" stroke-linecap="square"/>
<line x1="186.64" y1="245.64" x2="186.64" y2="219.20" stroke="#595959" stroke-width="1.2" stroke-linecap="square"/>
<line x1="183.18" y1="298.52" x2="190.10" y2="298.52" stroke="#595959" stroke-width="1.2" stroke-linecap="square"/>
<line x1="183.18" y1="219.20" x2="190.10" y2="219.20" stroke="#595959" stroke-width="1.2" stroke-linecap="square"/>
<rect x="179.72" y="245.64" width="13.84" height="26.44" fill="#95a3c3" stroke="#595959" stroke-width="1.2" stroke-linecap="square"/>
<line x1="179.72" y1="245.64" x2="193.56" y2="245.64" stroke="#595959" stroke-width="1.2" stroke-linecap="square"/>
<polygon points="158.96,255.36 159.66,257.51 161.91,257.51 160.09,258.83 160.78,260.97 158.96,259.65 157.14,260.97 157.83,258.83 156.01,257.51 158.26,257.51" fill="#ff0000" stroke="#ff0000" stroke-width="1" stroke-linejoin="round"/>
<circle cx="172.80" cy="255.82" r="2.75" fill="#ff0000"/>
<circle cx="186.64" cy="257.01" r="2.75" fill="#ff0000"/>
<line x1="210.86" y1="258.86" x2="210.86" y2="298.52" stroke="#595959" stroke-width="1.2" stroke-linecap="square"/>
<line x1="210.86" y1="232.42" x2="210.86" y2="219.20" stroke="#595959" stroke-width="1.2" stroke-linecap="square"/>
<line x1="207.40" y1="298.52" x2="214.32" y2="298.52" stroke="#595959" stroke-width="1.2" stroke-linecap="square"/>
<line x1="207.40" y1="219.20" x2="214.32" y2="219.20" stroke="#595959" stroke-width="1.2" stroke-linecap="square"/>
<rect x="203.94" y="232.42" width="13.84" height="26.44" fill="#72b6a1" stroke="#595959" stroke-width="1.2" stroke-linecap="square"/>
<line x1="203.94" y1="245.64" x2="217.78" y2="245.64" stroke="#595959" stroke-width="1.2" stroke-linecap="square"/>
<line x1="224.70" y1="258.86" x2="224.70" y2="298.52" stroke="#595959" stroke-width="1.2" stroke-linecap="square"/>
<line x1="224.70" y1="232.42" x2="224.70" y2="219.20" stroke="#595959" stroke-width="1.2" stroke-linecap="square"/>
<line x1="221.24" y1="298.52" x2="228.16" y2="298.52" stroke="#595959" stroke-width="1.2" stroke-linecap="square"/>
<line x1="221.24" y1="219.20" x2="228.16" y2="219.20" stroke="#595959" stroke-width="1.2" stroke-linecap="square"/>
<rect x="217.78" y="232.42" width="13.84" height="26.44" fill="#e99675" stroke="#595959" stroke-width="1.2" stroke-linecap="square"/>
<line x1="217.78" y1="245.64" x2="231.62" y2="245.64" stroke="#595959" stroke-width="1.2" stroke-linecap="square"/>
<polygon points="210.86,245.84 211.56,247.99 213.81,247.99 211.99,249.31 212.68,251.45 210.86,250.13 209.04,251.45 209.73,249.31 207.91,247.99 210.16,247.99" fill="#ff0000" stroke="#ff0000" stroke-width="1" stroke-linejoin="round"/>
<circle cx="224.70" cy="246.57" r="2.75" fill="#ff0000"/>
<line x1="262.76" y1="285.30" x2="262.76" y2="298.52" stroke="#595959" stroke-width="1.2" stroke-linecap="square"/>
<line x1="262.76" y1="245.64" x2="262.76" y2="219.20" stroke="#595959" stroke-width="1.2" stroke-linecap="square"/>
<line x1="259.30" y1="298.52" x2="266.22" y2="298.52" stroke="#595959" stroke-width="1.2" stroke-linecap="square"/>
<line x1="259.30" y1="219.20" x2="266.22" y2="219.20" stroke="#595959" stroke-width="1.2" stroke-linecap="square"/>
<rect x="255.84" y="245.64" width="13.84" height="39.66" fill="#72b6a1" stroke="#595959" stroke-width="1.2" stroke-linecap="square"/>
<line x1="255.84" y1="258.86" x2="269.68" y2="258.86" stroke="#595959" stroke-width="1.2" stroke-linecap="square"/>
<line x1="276.60" y1="285.30" x2="276.60" y2="298.52" stroke="#595959" stroke-width="1.2" stroke-linecap="square"/>
<line x1="276.60" y1="245.64" x2="276.60" y2="219.20" stroke="#595959" stroke-width="1.2" stroke-linecap="square"/>
<line x1="273.14" y1="298.52" x2="280.06" y2="298.52" stroke="#595959" stroke-width="1.2" stroke-linecap="square"/>
<line x1="273.14" y1="219.20" x2="280.06" y2="219.20" stroke="#595959" stroke-width="1.2" stroke-linecap="square"/>
<rect x="269.68" y="245.64" width="13.84" height="39.66" fill="#e99675" stroke="#595959" stroke-width="1.2" stroke-linecap="square"/>
<line x1="269.68" y1="258.86" x2="283.52" y2="258.86" stroke="#595959" stroke-width="1.2" stroke-linecap="square"/>
<polygon points="262.76,259.73 263.46,261.87 265.71,261.87 263.89,263.19 264.58,265.33 262.76,264.01 260.94,265.33 261.63,263.19 259.81,261.87 262.06,261.87" fill="#ff0000" stroke="#ff0000" stroke-width="1" stroke-linejoin="round"/>
<circle cx="276.60" cy="258.99" r="2.75" fill="#ff0000"/>
<line x1="314.66" y1="272.08" x2="314.66" y2="298.52" stroke="#595959" stroke-width="1.2" stroke-linecap="square"/>
<line x1="314.66" y1="245.64" x2="314.66" y2="219.20" stroke="#595959" stroke-width="1.2" stroke-linecap="square"/>
<line x1="311.20" y1="298.52" x2="318.12" y2="298.52" stroke="#595959" stroke-width="1.2" stroke-linecap="square"/>
<line x1="311.20" y1="219.20" x2="318.12" y2="219.20" stroke="#595959" stroke-width="1.2" stroke-linecap="square"/>
<rect x="307.74" y="245.64" width="13.84" height="26.44" fill="#72b6a1" stroke="#595959" stroke-width="1.2" stroke-linecap="square"/>
<line x1="307.74" y1="258.86" x2="321.58" y2="258.86" stroke="#595959" stroke-width="1.2" stroke-linecap="square"/>
<line x1="328.50" y1="272.08" x2="328.50" y2="298.52" stroke="#595959" stroke-width="1.2" stroke-linecap="square"/>
<line x1="328.50" y1="232.42" x2="328.50" y2="219.20" stroke="#595959" stroke-width="1.2" stroke-linecap="square"/>
<line x1="325.04" y1="298.52" x2="331.96" y2="298.52" stroke="#595959" stroke-width="1.2" stroke-linecap="square"/>
<line x1="325.04" y1="219.20" x2="331.96" y2="219.20" stroke="#595959" stroke-width="1.2" stroke-linecap="square"/>
<rect x="321.58" y="232.42" width="13.84" height="39.66" fill="#e99675" stroke="#595959" stroke-width="1.2" stroke-linecap="square"/>
<line x1="321.58" y1="245.64" x2="335.42" y2="245.64" stroke="#595959" stroke-width="1.2" stroke-linecap="square"/>
<polygon points="314.66,255.63 315.36,257.77 317.61,257.77 315.79,259.09 316.48,261.24 314.66,259.91 312.84,261.24 313.53,259.09 311.71,257.77 313.96,257.77" fill="#ff0000" stroke="#ff0000" stroke-width="1" stroke-linejoin="round"/>
<circle cx="328.50" cy="256.35" r="2.75" fill="#ff0000"/>
<text x="191.75" y="206.80" font-size="14.02" text-anchor="middle" textLength="97.09" lengthAdjust="spacingAndGlyphs" fill="#262626" stroke="#262626" stroke-width="0.298" >Evidence Type</text>
<text x="25.00" y="301.47" font-size="8.59" text-anchor="end" textLength="5.15" lengthAdjust="spacingAndGlyphs" fill="#262626" stroke="#262626" stroke-width="0.178" >1</text>
<text x="25.00" y="288.25" font-size="8.59" text-anchor="end" textLength="5.15" lengthAdjust="spacingAndGlyphs" fill="#262626" stroke="#262626" stroke-width="0.178" >2</text>
<text x="25.00" y="275.03" font-size="8.59" text-anchor="end" textLength="5.15" lengthAdjust="spacingAndGlyphs" fill="#262626" stroke="#262626" stroke-width="0.178" >3</text>
<text x="25.00" y="261.81" font-size="8.59" text-anchor="end" textLength="5.15" lengthAdjust="spacingAndGlyphs" fill="#262626" stroke="#262626" stroke-width="0.178" >4</text>
<text x="25.00" y="248.59" font-size="8.59" text-anchor="end" textLength="5.15" lengthAdjust="spacingAndGlyphs" fill="#262626" stroke="#262626" stroke-width="0.178" >5</text>
<text x="25.00" y="235.37" font-size="8.59" text-anchor="end" textLength="5.15" lengthAdjust="spacingAndGlyphs" fill="#262626" stroke="#262626" stroke-width="0.178" >6</text>
<text x="25.00" y="222.15" font-size="8.59" text-anchor="end" textLength="5.15" lengthAdjust="spacingAndGlyphs" fill="#262626" stroke="#262626" stroke-width="0.178" >7</text>
<text x="0" y="0" transform="translate(14.90,258.80) rotate(-90)" font-size="12.93" text-anchor="middle" textLength="67.60" lengthAdjust="spacingAndGlyphs" fill="#262626" stroke="#262626" stroke-width="0.268">Trust Score</text>
<g transform="translate(51.13,309.60) rotate(-30.0)">
<text x="0.00" y="6.16" font-size="8.59" text-anchor="end" textLength="41.60" lengthAdjust="spacingAndGlyphs" fill="#262626" stroke="#262626" stroke-width="0.178" >Biological,</text>
<text x="0.00" y="15.46" font-size="8.59" text-anchor="end" textLength="51.42" lengthAdjust="spacingAndGlyphs" fill="#262626" stroke="#262626" stroke-width="0.178" >Medical, and</text>
<text x="0.00" y="24.76" font-size="8.59" text-anchor="end" textLength="26.60" lengthAdjust="spacingAndGlyphs" fill="#262626" stroke="#262626" stroke-width="0.178" >Health</text>
<text x="0.00" y="34.06" font-size="8.59" text-anchor="end" textLength="35.62" lengthAdjust="spacingAndGlyphs" fill="#262626" stroke="#262626" stroke-width="0.178" >Sciences</text>
</g>
<g transform="translate(112.33,309.60) rotate(-30.0)">
<text x="0.00" y="6.16" font-size="8.59" text-anchor="end" textLength="53.53" lengthAdjust="spacingAndGlyphs" fill="#262626" stroke="#262626" stroke-width="0.178" >Business and</text>
<text x="0.00" y="15.46" font-size="8.59" text-anchor="end" textLength="53.36" lengthAdjust="spacingAndGlyphs" fill="#262626" stroke="#262626" stroke-width="0.178" >Management</text>
</g>
<g transform="translate(154.93,309.60) rotate(-30.0)">
<text x="0.00" y="6.16" font-size="8.59" text-anchor="end" textLength="55.19" lengthAdjust="spacingAndGlyphs" fill="#262626" stroke="#262626" stroke-width="0.178" >Mathematical</text>
<text x="0.00" y="15.46" font-size="8.59" text-anchor="end" textLength="50.93" lengthAdjust="spacingAndGlyphs" fill="#262626" stroke="#262626" stroke-width="0.178" >Problem and</text>
<text x="0.00" y="24.76" font-size="8.59" text-anchor="end" textLength="28.39" lengthAdjust="spacingAndGlyphs" fill="#262626" stroke="#262626" stroke-width="0.178" >Logical</text>
<text x="0.00" y="34.06" font-size="8.59" text-anchor="end" textLength="42.05" lengthAdjust="spacingAndGlyphs" fill="#262626" stroke="#262626" stroke-width="0.178" >Reasoning</text>
</g>
<g transform="translate(216.13,309.60) rotate(-30.0)">
<text x="0.00" y="6.16" font-size="8.59" text-anchor="end" textLength="50.76" lengthAdjust="spacingAndGlyphs" fill="#262626" stroke="#262626" stroke-width="0.178" >Physical and</text>
<text x="0.00" y="15.46" font-size="8.59" text-anchor="end" textLength="48.60" lengthAdjust="spacingAndGlyphs" fill="#262626" stroke="#262626" stroke-width="0.178" >Engineering</text>
</g>
<g transform="translate(268.03,309.60) rotate(-30.0)">
<text x="0.00" y="6.16" font-size="8.59" text-anchor="end" textLength="45.97" lengthAdjust="spacingAndGlyphs" fill="#262626" stroke="#262626" stroke-width="0.178" >Politics and</text>
<text x="0.00" y="15.46" font-size="8.59" text-anchor="end" textLength="28.82" lengthAdjust="spacingAndGlyphs" fill="#262626" stroke="#262626" stroke-width="0.178" >History</text>
</g>
<g transform="translate(315.28,309.60) rotate(-30.0)">
<text x="0.00" y="6.16" font-size="8.59" text-anchor="end" textLength="24.02" lengthAdjust="spacingAndGlyphs" fill="#262626" stroke="#262626" stroke-width="0.178" >Social</text>
<text x="0.00" y="15.46" font-size="8.59" text-anchor="end" textLength="53.43" lengthAdjust="spacingAndGlyphs" fill="#262626" stroke="#262626" stroke-width="0.178" >Sciences and</text>
<text x="0.00" y="24.76" font-size="8.59" text-anchor="end" textLength="16.10" lengthAdjust="spacingAndGlyphs" fill="#262626" stroke="#262626" stroke-width="0.178" >Law</text>
</g>
<line x1="438.10" y1="298.52" x2="753.80" y2="298.52" stroke="#cfcfcf" stroke-width="1"/>
<line x1="438.10" y1="285.30" x2="753.80" y2="285.30" stroke="#cfcfcf" stroke-width="1"/>
<line x1="438.10" y1="272.08" x2="753.80" y2="272.08" stroke="#cfcfcf" stroke-width="1"/>
<line x1="438.10" y1="258.86" x2="753.80" y2="258.86" stroke="#cfcfcf" stroke-width="1"/>
<line x1="438.10" y1="245.64" x2="753.80" y2="245.64" stroke="#cfcfcf" stroke-width="1"/>
<line x1="438.10" y1="232.42" x2="753.80" y2="232.42" stroke="#cfcfcf" stroke-width="1"/>
<line x1="438.10" y1="219.20" x2="753.80" y2="219.20" stroke="#cfcfcf" stroke-width="1"/>
<rect x="438.10" y="216.30" width="315.70" height="85.00" fill="none" stroke="#cccccc" stroke-width="1.3"/>
<line x1="459.11" y1="245.64" x2="459.11" y2="285.30" stroke="#595959" stroke-width="1.2" stroke-linecap="square"/>
<line x1="455.81" y1="285.30" x2="462.41" y2="285.30" stroke="#595959" stroke-width="1.2" stroke-linecap="square"/>
<line x1="455.81" y1="219.20" x2="462.41" y2="219.20" stroke="#595959" stroke-width="1.2" stroke-linecap="square"/>
<rect x="452.51" y="219.20" width="13.19" height="26.44" fill="#72b6a1" stroke="#595959" stroke-width="1.2" stroke-linecap="square"/>
<line x1="452.51" y1="232.42" x2="465.71" y2="232.42" stroke="#595959" stroke-width="1.2" stroke-linecap="square"/>
<line x1="472.30" y1="258.86" x2="472.30" y2="298.52" stroke="#595959" stroke-width="1.2" stroke-linecap="square"/>
<line x1="472.30" y1="222.50" x2="472.30" y2="219.20" stroke="#595959" stroke-width="1.2" stroke-linecap="square"/>
<line x1="469.00" y1="298.52" x2="475.60" y2="298.52" stroke="#595959" stroke-width="1.2" stroke-linecap="square"/>
<line x1="469.00" y1="219.20" x2="475.60" y2="219.20" stroke="#595959" stroke-width="1.2" stroke-linecap="square"/>
<rect x="465.70" y="222.50" width="13.19" height="36.36" fill="#e99675" stroke="#595959" stroke-width="1.2" stroke-linecap="square"/>
<line x1="465.70" y1="239.03" x2="478.90" y2="239.03" stroke="#595959" stroke-width="1.2" stroke-linecap="square"/>
<line x1="485.49" y1="258.86" x2="485.49" y2="298.52" stroke="#595959" stroke-width="1.2" stroke-linecap="square"/>
<line x1="482.19" y1="298.52" x2="488.79" y2="298.52" stroke="#595959" stroke-width="1.2" stroke-linecap="square"/>
<line x1="482.19" y1="219.20" x2="488.79" y2="219.20" stroke="#595959" stroke-width="1.2" stroke-linecap="square"/>
<rect x="478.89" y="219.20" width="13.19" height="39.66" fill="#95a3c3" stroke="#595959" stroke-width="1.2" stroke-linecap="square"/>
<line x1="478.89" y1="232.42" x2="492.09" y2="232.42" stroke="#595959" stroke-width="1.2" stroke-linecap="square"/>
<polygon points="459.11,238.18 459.81,240.32 462.06,240.32 460.24,241.64 460.93,243.79 459.11,242.46 457.29,243.79 457.98,241.64 456.16,240.32 458.41,240.32" fill="#ff0000" stroke="#ff0000" stroke-width="1" stroke-linejoin="round"/>
<circle cx="472.30" cy="243.26" r="2.75" fill="#ff0000"/>
<circle cx="485.49" cy="244.05" r="2.75" fill="#ff0000"/>
<line x1="508.57" y1="258.86" x2="508.57" y2="298.52" stroke="#595959" stroke-width="1.2" stroke-linecap="square"/>
<line x1="508.57" y1="232.42" x2="508.57" y2="219.20" stroke="#595959" stroke-width="1.2" stroke-linecap="square"/>
<line x1="505.27" y1="298.52" x2="511.87" y2="298.52" stroke="#595959" stroke-width="1.2" stroke-linecap="square"/>
<line x1="505.27" y1="219.20" x2="511.87" y2="219.20" stroke="#595959" stroke-width="1.2" stroke-linecap="square"/>
<rect x="501.97" y="232.42" width="13.19" height="26.44" fill="#72b6a1" stroke="#595959" stroke-width="1.2" stroke-linecap="square"/>
<line x1="501.97" y1="245.64" x2="515.16" y2="245.64" stroke="#595959" stroke-width="1.2" stroke-linecap="square"/>
<line x1="521.76" y1="258.86" x2="521.76" y2="285.30" stroke="#595959" stroke-width="1.2" stroke-linecap="square"/>
<line x1="521.76" y1="232.42" x2="521.76" y2="219.20" stroke="#595959" stroke-width="1.2" stroke-linecap="square"/>
<line x1="518.46" y1="285.30" x2="525.06" y2="285.30" stroke="#595959" stroke-width="1.2" stroke-linecap="square"/>
<line x1="518.46" y1="219.20" x2="525.06" y2="219.20" stroke="#595959" stroke-width="1.2" stroke-linecap="square"/>
<rect x="515.16" y="232.42" width="13.19" height="26.44" fill="#e99675" stroke="#595959" stroke-width="1.2" stroke-linecap="square"/>
<line x1="515.16" y1="232.42" x2="528.36" y2="232.42" stroke="#595959" stroke-width="1.2" stroke-linecap="square"/>
<line x1="534.95" y1="258.86" x2="534.95" y2="298.52" stroke="#595959" stroke-width="1.2" stroke-linecap="square"/>
<line x1="534.95" y1="232.42" x2="534.95" y2="219.20" stroke="#595959" stroke-width="1.2" stroke-linecap="square"/>
<line x1="531.65" y1="298.52" x2="538.25" y2="298.52" stroke="#595959" stroke-width="1.2" stroke-linecap="square"/>
<line x1="531.65" y1="219.20" x2="538.25" y2="219.20" stroke="#595959" stroke-width="1.2" stroke-linecap="square"/>
<rect x="528.36" y="232.42" width="13.19" height="26.44" fill="#95a3c3" stroke="#595959" stroke-width="1.2" stroke-linecap="square"/>
<line x1="528.36" y1="245.64" x2="541.55" y2="245.64" stroke="#595959" stroke-width="1.2" stroke-linecap="square"/>
<polygon points="508.57,241.09 509.27,243.23 511.52,243.23 509.70,244.55 510.39,246.69 508.57,245.37 506.75,246.69 507.44,244.55 505.62,243.23 507.87,243.23" fill="#ff0000" stroke="#ff0000" stroke-width="1" stroke-linejoin="round"/>
<circle cx="521.76" cy="241.81" r="2.75" fill="#ff0000"/>
<circle cx="534.95" cy="244.19" r="2.75" fill="#ff0000"/>
<line x1="558.03" y1="272.08" x2="558.03" y2="298.52" stroke="#595959" stroke-width="1.2" stroke-linecap="square"/>
<line x1="558.03" y1="232.42" x2="558.03" y2="219.20" stroke="#595959" stroke-width="1.2" stroke-linecap="square"/>
<line x1="554.73" y1="298.52" x2="561.33" y2="298.52" stroke="#595959" stroke-width="1.2" stroke-linecap="square"/>
<line x1="554.73" y1="219.20" x2="561.33" y2="219.20" stroke="#595959" stroke-width="1.2" stroke-linecap="square"/>
<rect x="551.43" y="232.42" width="13.19" height="39.66" fill="#72b6a1" stroke="#595959" stroke-width="1.2" stroke-linecap="square"/>
<line x1="551.43" y1="245.64" x2="564.62" y2="245.64" stroke="#595959" stroke-width="1.2" stroke-linecap="square"/>
<line x1="571.22" y1="272.08" x2="571.22" y2="298.52" stroke="#595959" stroke-width="1.2" stroke-linecap="square"/>
<line x1="571.22" y1="245.64" x2="571.22" y2="219.20" stroke="#595959" stroke-width="1.2" stroke-linecap="square"/>
<line x1="567.92" y1="298.52" x2="574.52" y2="298.52" stroke="#595959" stroke-width="1.2" stroke-linecap="square"/>
<line x1="567.92" y1="219.20" x2="574.52" y2="219.20" stroke="#595959" stroke-width="1.2" stroke-linecap="square"/>
<rect x="564.62" y="245.64" width="13.19" height="26.44" fill="#e99675" stroke="#595959" stroke-width="1.2" stroke-linecap="square"/>
<line x1="564.62" y1="258.86" x2="577.82" y2="258.86" stroke="#595959" stroke-width="1.2" stroke-linecap="square"/>
<line x1="584.41" y1="285.30" x2="584.41" y2="298.52" stroke="#595959" stroke-width="1.2" stroke-linecap="square"/>
<line x1="584.41" y1="245.64" x2="584.41" y2="219.20" stroke="#595959" stroke-width="1.2" stroke-linecap="square"/>
<line x1="581.11" y1="298.52" x2="587.71" y2="298.52" stroke="#595959" stroke-width="1.2" stroke-linecap="square"/>
<line x1="581.11" y1="219.20" x2="587.71" y2="219.20" stroke="#595959" stroke-width="1.2" stroke-linecap="square"/>
<rect x="577.82" y="245.64" width="13.19" height="39.66" fill="#95a3c3" stroke="#595959" stroke-width="1.2" stroke-linecap="square"/>
<line x1="577.82" y1="258.86" x2="591.01" y2="258.86" stroke="#595959" stroke-width="1.2" stroke-linecap="square"/>
<polygon points="558.03,251.79 558.73,253.94 560.98,253.94 559.16,255.26 559.85,257.40 558.03,256.08 556.21,257.40 556.90,255.26 555.08,253.94 557.33,253.94" fill="#ff0000" stroke="#ff0000" stroke-width="1" stroke-linejoin="round"/>
<circle cx="571.22" cy="258.07" r="2.75" fill="#ff0000"/>
<circle cx="584.41" cy="258.86" r="2.75" fill="#ff0000"/>
<line x1="607.49" y1="258.86" x2="607.49" y2="298.52" stroke="#595959" stroke-width="1.2" stroke-linecap="square"/>
<line x1="607.49" y1="232.42" x2="607.49" y2="219.20" stroke="#595959" stroke-width="1.2" stroke-linecap="square"/>
<line x1="604.19" y1="298.52" x2="610.79" y2="298.52" stroke="#595959" stroke-width="1.2" stroke-linecap="square"/>
<line x1="604.19" y1="219.20" x2="610.79" y2="219.20" stroke="#595959" stroke-width="1.2" stroke-linecap="square"/>
<rect x="600.89" y="232.42" width="13.19" height="26.44" fill="#72b6a1" stroke="#595959" stroke-width="1.2" stroke-linecap="square"/>
<line x1="600.89" y1="245.64" x2="614.09" y2="245.64" stroke="#595959" stroke-width="1.2" stroke-linecap="square"/>
<line x1="620.68" y1="258.86" x2="620.68" y2="298.52" stroke="#595959" stroke-width="1.2" stroke-linecap="square"/>
<line x1="620.68" y1="232.42" x2="620.68" y2="219.20" stroke="#595959" stroke-width="1.2" stroke-linecap="square"/>
<line x1="617.38" y1="298.52" x2="623.98" y2="298.52" stroke="#595959" stroke-width="1.2" stroke-linecap="square"/>
<line x1="617.38" y1="219.20" x2="623.98" y2="219.20" stroke="#595959" stroke-width="1.2" stroke-linecap="square"/>
<rect x="614.09" y="232.42" width="13.19" height="26.44" fill="#e99675" stroke="#595959" stroke-width="1.2" stroke-linecap="square"/>
<line x1="614.09" y1="245.64" x2="627.28" y2="245.64" stroke="#595959" stroke-width="1.2" stroke-linecap="square"/>
<line x1="633.87" y1="258.86" x2="633.87" y2="298.52" stroke="#595959" stroke-width="1.2" stroke-linecap="square"/>
<line x1="633.87" y1="232.42" x2="633.87" y2="219.20" stroke="#595959" stroke-width="1.2" stroke-linecap="square"/>
<line x1="630.57" y1="298.52" x2="637.17" y2="298.52" stroke="#595959" stroke-width="1.2" stroke-linecap="square"/>
<line x1="630.57" y1="219.20" x2="637.17" y2="219.20" stroke="#595959" stroke-width="1.2" stroke-linecap="square"/>
<rect x="627.28" y="232.42" width="13.19" height="26.44" fill="#95a3c3" stroke="#595959" stroke-width="1.2" stroke-linecap="square"/>
<line x1="627.28" y1="245.64" x2="640.47" y2="245.64" stroke="#595959" stroke-width="1.2" stroke-linecap="square"/>
<polygon points="607.49,244.79 608.19,246.93 610.44,246.93 608.62,248.25 609.31,250.40 607.49,249.07 605.67,250.40 606.36,248.25 604.54,246.93 606.79,246.93" fill="#ff0000" stroke="#ff0000" stroke-width="1" stroke-linejoin="round"/>
<circle cx="620.68" cy="246.57" r="2.75" fill="#ff0000"/>
<circle cx="633.87" cy="249.34" r="2.75" fill="#ff0000"/>
<line x1="656.95" y1="285.30" x2="656.95" y2="298.52" stroke="#595959" stroke-width="1.2" stroke-linecap="square"/>
<line x1="656.95" y1="245.64" x2="656.95" y2="219.20" stroke="#595959" stroke-width="1.2" stroke-linecap="square"/>
<line x1="653.65" y1="298.52" x2="660.25" y2="298.52" stroke="#595959" stroke-width="1.2" stroke-linecap="square"/>
<line x1="653.65" y1="219.20" x2="660.25" y2="219.20" stroke="#595959" stroke-width="1.2" stroke-linecap="square"/>
<rect x="650.35" y="245.64" width="13.19" height="39.66" fill="#72b6a1" stroke="#595959" stroke-width="1.2" stroke-linecap="square"/>
<line x1="650.35" y1="258.86" x2="663.54" y2="258.86" stroke="#595959" stroke-width="1.2" stroke-linecap="square"/>
<line x1="670.14" y1="285.30" x2="670.14" y2="298.52" stroke="#595959" stroke-width="1.2" stroke-linecap="square"/>
<line x1="670.14" y1="245.64" x2="670.14" y2="219.20" stroke="#595959" stroke-width="1.2" stroke-linecap="square"/>
<line x1="666.84" y1="298.52" x2="673.44" y2="298.52" stroke="#595959" stroke-width="1.2" stroke-linecap="square"/>
<line x1="666.84" y1="219.20" x2="673.44" y2="219.20" stroke="#595959" stroke-width="1.2" stroke-linecap="square"/>
<rect x="663.54" y="245.64" width="13.19" height="39.66" fill="#e99675" stroke="#595959" stroke-width="1.2" stroke-linecap="square"/>
<line x1="663.54" y1="258.86" x2="676.74" y2="258.86" stroke="#595959" stroke-width="1.2" stroke-linecap="square"/>
<line x1="683.33" y1="285.30" x2="683.33" y2="298.52" stroke="#595959" stroke-width="1.2" stroke-linecap="square"/>
<line x1="683.33" y1="245.64" x2="683.33" y2="219.20" stroke="#595959" stroke-width="1.2" stroke-linecap="square"/>
<line x1="680.03" y1="298.52" x2="686.63" y2="298.52" stroke="#595959" stroke-width="1.2" stroke-linecap="square"/>
<line x1="680.03" y1="219.20" x2="686.63" y2="219.20" stroke="#595959" stroke-width="1.2" stroke-linecap="square"/>
<rect x="676.74" y="245.64" width="13.19" height="39.66" fill="#95a3c3" stroke="#595959" stroke-width="1.2" stroke-linecap="square"/>
<line x1="676.74" y1="258.86" x2="689.93" y2="258.86" stroke="#595959" stroke-width="1.2" stroke-linecap="square"/>
<polygon points="656.95,258.93 657.65,261.07 659.90,261.07 658.08,262.40 658.77,264.54 656.95,263.22 655.13,264.54 655.82,262.40 654.00,261.07 656.25,261.07" fill="#ff0000" stroke="#ff0000" stroke-width="1" stroke-linejoin="round"/>
<circle cx="670.14" cy="259.39" r="2.75" fill="#ff0000"/>
<circle cx="683.33" cy="261.77" r="2.75" fill="#ff0000"/>
<line x1="706.41" y1="272.08" x2="706.41" y2="298.52" stroke="#595959" stroke-width="1.2" stroke-linecap="square"/>
<line x1="706.41" y1="232.42" x2="706.41" y2="219.20" stroke="#595959" stroke-width="1.2" stroke-linecap="square"/>
<line x1="703.11" y1="298.52" x2="709.71" y2="298.52" stroke="#595959" stroke-width="1.2" stroke-linecap="square"/>
<line x1="703.11" y1="219.20" x2="709.71" y2="219.20" stroke="#595959" stroke-width="1.2" stroke-linecap="square"/>
<rect x="699.81" y="232.42" width="13.19" height="39.66" fill="#72b6a1" stroke="#595959" stroke-width="1.2" stroke-linecap="square"/>
<line x1="699.81" y1="245.64" x2="713.00" y2="245.64" stroke="#595959" stroke-width="1.2" stroke-linecap="square"/>
<line x1="719.60" y1="272.08" x2="719.60" y2="298.52" stroke="#595959" stroke-width="1.2" stroke-linecap="square"/>
<line x1="719.60" y1="245.64" x2="719.60" y2="219.20" stroke="#595959" stroke-width="1.2" stroke-linecap="square"/>
<line x1="716.30" y1="298.52" x2="722.90" y2="298.52" stroke="#595959" stroke-width="1.2" stroke-linecap="square"/>
<line x1="716.30" y1="219.20" x2="722.90" y2="219.20" stroke="#595959" stroke-width="1.2" stroke-linecap="square"/>
<rect x="713.00" y="245.64" width="13.19" height="26.44" fill="#e99675" stroke="#595959" stroke-width="1.2" stroke-linecap="square"/>
<line x1="713.00" y1="258.86" x2="726.20" y2="258.86" stroke="#595959" stroke-width="1.2" stroke-linecap="square"/>
<line x1="732.79" y1="285.30" x2="732.79" y2="298.52" stroke="#595959" stroke-width="1.2" stroke-linecap="square"/>
<line x1="732.79" y1="245.64" x2="732.79" y2="219.20" stroke="#595959" stroke-width="1.2" stroke-linecap="square"/>
<line x1="729.49" y1="298.52" x2="736.09" y2="298.52" stroke="#595959" stroke-width="1.2" stroke-linecap="square"/>
<line x1="729.49" y1="219.20" x2="736.09" y2="219.20" stroke="#595959" stroke-width="1.2" stroke-linecap="square"/>
<rect x="726.20" y="245.64" width="13.19" height="39.66" fill="#95a3c3" stroke="#595959" stroke-width="1.2" stroke-linecap="square"/>
<line x1="726.20" y1="258.86" x2="739.39" y2="258.86" stroke="#595959" stroke-width="1.2" stroke-linecap="square"/>
<polygon points="706.41,253.64 707.11,255.79 709.36,255.79 707.54,257.11 708.23,259.25 706.41,257.93 704.59,259.25 705.28,257.11 703.46,255.79 705.71,255.79" fill="#ff0000" stroke="#ff0000" stroke-width="1" stroke-linejoin="round"/>
<circle cx="719.60" cy="258.07" r="2.75" fill="#ff0000"/>
<circle cx="732.79" cy="258.60" r="2.75" fill="#ff0000"/>
<text x="595.90" y="206.80" font-size="14.02" text-anchor="middle" textLength="145.14" lengthAdjust="spacingAndGlyphs" fill="#262626" stroke="#262626" stroke-width="0.298" >Communication Style</text>
<text x="429.10" y="301.47" font-size="8.59" text-anchor="end" textLength="5.15" lengthAdjust="spacingAndGlyphs" fill="#262626" stroke="#262626" stroke-width="0.178" >1</text>
<text x="429.10" y="288.25" font-size="8.59" text-anchor="end" textLength="5.15" lengthAdjust="spacingAndGlyphs" fill="#262626" stroke="#262626" stroke-width="0.178" >2</text>
<text x="429.10" y="275.03" font-size="8.59" text-anchor="end" textLength="5.15" lengthAdjust="spacingAndGlyphs" fill="#262626" stroke="#262626" stroke-width="0.178" >3</text>
<text x="429.10" y="261.81" font-size="8.59" text-anchor="end" textLength="5.15" lengthAdjust="spacingAndGlyphs" fill="#262626" stroke="#262626" stroke-width="0.178" >4</text>
<text x="429.10" y="248.59" font-size="8.59" text-anchor="end" textLength="5.15" lengthAdjust="spacingAndGlyphs" fill="#262626" stroke="#262626" stroke-width="0.178" >5</text>
<text x="429.10" y="235.37" font-size="8.59" text-anchor="end" textLength="5.15" lengthAdjust="spacingAndGlyphs" fill="#262626" stroke="#262626" stroke-width="0.178" >6</text>
<text x="429.10" y="222.15" font-size="8.59" text-anchor="end" textLength="5.15" lengthAdjust="spacingAndGlyphs" fill="#262626" stroke="#262626" stroke-width="0.178" >7</text>
<text x="0" y="0" transform="translate(419.00,258.80) rotate(-90)" font-size="12.93" text-anchor="middle" textLength="67.60" lengthAdjust="spacingAndGlyphs" fill="#262626" stroke="#262626" stroke-width="0.268">Trust Score</text>
<g transform="translate(451.80,309.60) rotate(-35.0)">
<text x="0.00" y="6.16" font-size="8.59" text-anchor="end" textLength="41.60" lengthAdjust="spacingAndGlyphs" fill="#262626" stroke="#262626" stroke-width="0.178" >Biological,</text>
<text x="0.00" y="15.46" font-size="8.59" text-anchor="end" textLength="51.42" lengthAdjust="spacingAndGlyphs" fill="#262626" stroke="#262626" stroke-width="0.178" >Medical, and</text>
<text x="0.00" y="24.76" font-size="8.59" text-anchor="end" textLength="26.60" lengthAdjust="spacingAndGlyphs" fill="#262626" stroke="#262626" stroke-width="0.178" >Health</text>
<text x="0.00" y="34.06" font-size="8.59" text-anchor="end" textLength="35.62" lengthAdjust="spacingAndGlyphs" fill="#262626" stroke="#262626" stroke-width="0.178" >Sciences</text>
</g>
<g transform="translate(511.93,309.60) rotate(-35.0)">
<text x="0.00" y="6.16" font-size="8.59" text-anchor="end" textLength="53.53" lengthAdjust="spacingAndGlyphs" fill="#262626" stroke="#262626" stroke-width="0.178" >Business and</text>
<text x="0.00" y="15.46" font-size="8.59" text-anchor="end" textLength="53.36" lengthAdjust="spacingAndGlyphs" fill="#262626" stroke="#262626" stroke-width="0.178" >Management</text>
</g>
<g transform="translate(550.72,309.60) rotate(-35.0)">
<text x="0.00" y="6.16" font-size="8.59" text-anchor="end" textLength="55.19" lengthAdjust="spacingAndGlyphs" fill="#262626" stroke="#262626" stroke-width="0.178" >Mathematical</text>
<text x="0.00" y="15.46" font-size="8.59" text-anchor="end" textLength="50.93" lengthAdjust="spacingAndGlyphs" fill="#262626" stroke="#262626" stroke-width="0.178" >Problem and</text>
<text x="0.00" y="24.76" font-size="8.59" text-anchor="end" textLength="28.39" lengthAdjust="spacingAndGlyphs" fill="#262626" stroke="#262626" stroke-width="0.178" >Logical</text>
<text x="0.00" y="34.06" font-size="8.59" text-anchor="end" textLength="42.05" lengthAdjust="spacingAndGlyphs" fill="#262626" stroke="#262626" stroke-width="0.178" >Reasoning</text>
</g>
<g transform="translate(610.85,309.60) rotate(-35.0)">
<text x="0.00" y="6.16" font-size="8.59" text-anchor="end" textLength="50.76" lengthAdjust="spacingAndGlyphs" fill="#262626" stroke="#262626" stroke-width="0.178" >Physical and</text>
<text x="0.00" y="15.46" font-size="8.59" text-anchor="end" textLength="48.60" lengthAdjust="spacingAndGlyphs" fill="#262626" stroke="#262626" stroke-width="0.178" >Engineering</text>
</g>
<g transform="translate(660.31,309.60) rotate(-35.0)">
<text x="0.00" y="6.16" font-size="8.59" text-anchor="end" textLength="45.97" lengthAdjust="spacingAndGlyphs" fill="#262626" stroke="#262626" stroke-width="0.178" >Politics and</text>
<text x="0.00" y="15.46" font-size="8.59" text-anchor="end" textLength="28.82" lengthAdjust="spacingAndGlyphs" fill="#262626" stroke="#262626" stroke-width="0.178" >History</text>
</g>
<g transform="translate(704.43,309.60) rotate(-35.0)">
<text x="0.00" y="6.16" font-size="8.59" text-anchor="end" textLength="24.02" lengthAdjust="spacingAndGlyphs" fill="#262626" stroke="#262626" stroke-width="0.178" >Social</text>
<text x="0.00" y="15.46" font-size="8.59" text-anchor="end" textLength="53.43" lengthAdjust="spacingAndGlyphs" fill="#262626" stroke="#262626" stroke-width="0.178" >Sciences and</text>
<text x="0.00" y="24.76" font-size="8.59" text-anchor="end" textLength="16.10" lengthAdjust="spacingAndGlyphs" fill="#262626" stroke="#262626" stroke-width="0.178" >Law</text>
</g>
<line x1="842.50" y1="298.52" x2="1158.20" y2="298.52" stroke="#cfcfcf" stroke-width="1"/>
<line x1="842.50" y1="285.30" x2="1158.20" y2="285.30" stroke="#cfcfcf" stroke-width="1"/>
<line x1="842.50" y1="272.08" x2="1158.20" y2="272.08" stroke="#cfcfcf" stroke-width="1"/>
<line x1="842.50" y1="258.86" x2="1158.20" y2="258.86" stroke="#cfcfcf" stroke-width="1"/>
<line x1="842.50" y1="245.64" x2="1158.20" y2="245.64" stroke="#cfcfcf" stroke-width="1"/>
<line x1="842.50" y1="232.42" x2="1158.20" y2="232.42" stroke="#cfcfcf" stroke-width="1"/>
<line x1="842.50" y1="219.20" x2="1158.20" y2="219.20" stroke="#cfcfcf" stroke-width="1"/>
<rect x="842.50" y="216.30" width="315.70" height="85.00" fill="none" stroke="#cccccc" stroke-width="1.3"/>
<line x1="866.50" y1="258.86" x2="866.50" y2="298.52" stroke="#595959" stroke-width="1.2" stroke-linecap="square"/>
<line x1="861.54" y1="298.52" x2="871.45" y2="298.52" stroke="#595959" stroke-width="1.2" stroke-linecap="square"/>
<line x1="861.54" y1="219.20" x2="871.45" y2="219.20" stroke="#595959" stroke-width="1.2" stroke-linecap="square"/>
<rect x="856.59" y="219.20" width="19.81" height="39.66" fill="#72b6a1" stroke="#595959" stroke-width="1.2" stroke-linecap="square"/>
<line x1="856.59" y1="232.42" x2="876.40" y2="232.42" stroke="#595959" stroke-width="1.2" stroke-linecap="square"/>
<line x1="886.30" y1="258.86" x2="886.30" y2="298.52" stroke="#595959" stroke-width="1.2" stroke-linecap="square"/>
<line x1="886.30" y1="232.42" x2="886.30" y2="219.20" stroke="#595959" stroke-width="1.2" stroke-linecap="square"/>
<line x1="881.35" y1="298.52" x2="891.26" y2="298.52" stroke="#595959" stroke-width="1.2" stroke-linecap="square"/>
<line x1="881.35" y1="219.20" x2="891.26" y2="219.20" stroke="#595959" stroke-width="1.2" stroke-linecap="square"/>
<rect x="876.40" y="232.42" width="19.81" height="26.44" fill="#e99675" stroke="#595959" stroke-width="1.2" stroke-linecap="square"/>
<line x1="876.40" y1="232.42" x2="896.21" y2="232.42" stroke="#595959" stroke-width="1.2" stroke-linecap="square"/>
<polygon points="866.50,239.70 867.19,241.84 869.44,241.84 867.62,243.16 868.32,245.31 866.50,243.98 864.67,245.31 865.37,243.16 863.55,241.84 865.80,241.84" fill="#ff0000" stroke="#ff0000" stroke-width="1" stroke-linejoin="round"/>
<circle cx="886.30" cy="242.80" r="2.75" fill="#ff0000"/>
<line x1="916.01" y1="258.86" x2="916.01" y2="298.52" stroke="#595959" stroke-width="1.2" stroke-linecap="square"/>
<line x1="916.01" y1="232.42" x2="916.01" y2="219.20" stroke="#595959" stroke-width="1.2" stroke-linecap="square"/>
<line x1="911.06" y1="298.52" x2="920.97" y2="298.52" stroke="#595959" stroke-width="1.2" stroke-linecap="square"/>
<line x1="911.06" y1="219.20" x2="920.97" y2="219.20" stroke="#595959" stroke-width="1.2" stroke-linecap="square"/>
<rect x="906.11" y="232.42" width="19.81" height="26.44" fill="#72b6a1" stroke="#595959" stroke-width="1.2" stroke-linecap="square"/>
<line x1="906.11" y1="232.42" x2="925.92" y2="232.42" stroke="#595959" stroke-width="1.2" stroke-linecap="square"/>
<line x1="935.82" y1="258.86" x2="935.82" y2="298.52" stroke="#595959" stroke-width="1.2" stroke-linecap="square"/>
<line x1="935.82" y1="232.42" x2="935.82" y2="219.20" stroke="#595959" stroke-width="1.2" stroke-linecap="square"/>
<line x1="930.87" y1="298.52" x2="940.78" y2="298.52" stroke="#595959" stroke-width="1.2" stroke-linecap="square"/>
<line x1="930.87" y1="219.20" x2="940.78" y2="219.20" stroke="#595959" stroke-width="1.2" stroke-linecap="square"/>
<rect x="925.92" y="232.42" width="19.81" height="26.44" fill="#e99675" stroke="#595959" stroke-width="1.2" stroke-linecap="square"/>
<line x1="925.92" y1="232.42" x2="945.73" y2="232.42" stroke="#595959" stroke-width="1.2" stroke-linecap="square"/>
<polygon points="916.01,239.70 916.71,241.84 918.96,241.84 917.14,243.16 917.84,245.31 916.01,243.98 914.19,245.31 914.89,243.16 913.07,241.84 915.32,241.84" fill="#ff0000" stroke="#ff0000" stroke-width="1" stroke-linejoin="round"/>
<circle cx="935.82" cy="243.72" r="2.75" fill="#ff0000"/>
<line x1="965.53" y1="272.08" x2="965.53" y2="298.52" stroke="#595959" stroke-width="1.2" stroke-linecap="square"/>
<line x1="965.53" y1="245.64" x2="965.53" y2="219.20" stroke="#595959" stroke-width="1.2" stroke-linecap="square"/>
<line x1="960.58" y1="298.52" x2="970.49" y2="298.52" stroke="#595959" stroke-width="1.2" stroke-linecap="square"/>
<line x1="960.58" y1="219.20" x2="970.49" y2="219.20" stroke="#595959" stroke-width="1.2" stroke-linecap="square"/>
<rect x="955.63" y="245.64" width="19.81" height="26.44" fill="#72b6a1" stroke="#595959" stroke-width="1.2" stroke-linecap="square"/>
<line x1="955.63" y1="258.86" x2="975.44" y2="258.86" stroke="#595959" stroke-width="1.2" stroke-linecap="square"/>
<line x1="985.34" y1="272.08" x2="985.34" y2="298.52" stroke="#595959" stroke-width="1.2" stroke-linecap="square"/>
<line x1="985.34" y1="232.42" x2="985.34" y2="219.20" stroke="#595959" stroke-width="1.2" stroke-linecap="square"/>
<line x1="980.39" y1="298.52" x2="990.30" y2="298.52" stroke="#595959" stroke-width="1.2" stroke-linecap="square"/>
<line x1="980.39" y1="219.20" x2="990.30" y2="219.20" stroke="#595959" stroke-width="1.2" stroke-linecap="square"/>
<rect x="975.44" y="232.42" width="19.81" height="39.66" fill="#e99675" stroke="#595959" stroke-width="1.2" stroke-linecap="square"/>
<line x1="975.44" y1="245.64" x2="995.25" y2="245.64" stroke="#595959" stroke-width="1.2" stroke-linecap="square"/>
<polygon points="965.53,256.22 966.23,258.36 968.48,258.36 966.66,259.69 967.36,261.83 965.53,260.51 963.71,261.83 964.41,259.69 962.59,258.36 964.84,258.36" fill="#ff0000" stroke="#ff0000" stroke-width="1" stroke-linejoin="round"/>
<circle cx="985.34" cy="254.70" r="2.75" fill="#ff0000"/>
<line x1="1015.06" y1="258.86" x2="1015.06" y2="298.52" stroke="#595959" stroke-width="1.2" stroke-linecap="square"/>
<line x1="1015.06" y1="232.42" x2="1015.06" y2="219.20" stroke="#595959" stroke-width="1.2" stroke-linecap="square"/>
<line x1="1010.10" y1="298.52" x2="1020.01" y2="298.52" stroke="#595959" stroke-width="1.2" stroke-linecap="square"/>
<line x1="1010.10" y1="219.20" x2="1020.01" y2="219.20" stroke="#595959" stroke-width="1.2" stroke-linecap="square"/>
<rect x="1005.15" y="232.42" width="19.81" height="26.44" fill="#72b6a1" stroke="#595959" stroke-width="1.2" stroke-linecap="square"/>
<line x1="1005.15" y1="245.64" x2="1024.96" y2="245.64" stroke="#595959" stroke-width="1.2" stroke-linecap="square"/>
<line x1="1034.87" y1="258.86" x2="1034.87" y2="298.52" stroke="#595959" stroke-width="1.2" stroke-linecap="square"/>
<line x1="1034.87" y1="232.42" x2="1034.87" y2="219.20" stroke="#595959" stroke-width="1.2" stroke-linecap="square"/>
<line x1="1029.91" y1="298.52" x2="1039.82" y2="298.52" stroke="#595959" stroke-width="1.2" stroke-linecap="square"/>
<line x1="1029.91" y1="219.20" x2="1039.82" y2="219.20" stroke="#595959" stroke-width="1.2" stroke-linecap="square"/>
<rect x="1024.96" y="232.42" width="19.81" height="26.44" fill="#e99675" stroke="#595959" stroke-width="1.2" stroke-linecap="square"/>
<line x1="1024.96" y1="245.64" x2="1044.77" y2="245.64" stroke="#595959" stroke-width="1.2" stroke-linecap="square"/>
<polygon points="1015.06,244.99 1015.75,247.13 1018.00,247.13 1016.18,248.45 1016.88,250.59 1015.06,249.27 1013.23,250.59 1013.93,248.45 1012.11,247.13 1014.36,247.13" fill="#ff0000" stroke="#ff0000" stroke-width="1" stroke-linejoin="round"/>
<circle cx="1034.87" cy="247.29" r="2.75" fill="#ff0000"/>
<line x1="1064.58" y1="285.30" x2="1064.58" y2="298.52" stroke="#595959" stroke-width="1.2" stroke-linecap="square"/>
<line x1="1064.58" y1="245.64" x2="1064.58" y2="219.20" stroke="#595959" stroke-width="1.2" stroke-linecap="square"/>
<line x1="1059.62" y1="298.52" x2="1069.53" y2="298.52" stroke="#595959" stroke-width="1.2" stroke-linecap="square"/>
<line x1="1059.62" y1="219.20" x2="1069.53" y2="219.20" stroke="#595959" stroke-width="1.2" stroke-linecap="square"/>
<rect x="1054.67" y="245.64" width="19.81" height="39.66" fill="#72b6a1" stroke="#595959" stroke-width="1.2" stroke-linecap="square"/>
<line x1="1054.67" y1="258.86" x2="1074.48" y2="258.86" stroke="#595959" stroke-width="1.2" stroke-linecap="square"/>
<line x1="1084.38" y1="285.30" x2="1084.38" y2="298.52" stroke="#595959" stroke-width="1.2" stroke-linecap="square"/>
<line x1="1084.38" y1="245.64" x2="1084.38" y2="219.20" stroke="#595959" stroke-width="1.2" stroke-linecap="square"/>
<line x1="1079.43" y1="298.52" x2="1089.34" y2="298.52" stroke="#595959" stroke-width="1.2" stroke-linecap="square"/>
<line x1="1079.43" y1="219.20" x2="1089.34" y2="219.20" stroke="#595959" stroke-width="1.2" stroke-linecap="square"/>
<rect x="1074.48" y="245.64" width="19.81" height="39.66" fill="#e99675" stroke="#595959" stroke-width="1.2" stroke-linecap="square"/>
<line x1="1074.48" y1="258.86" x2="1094.29" y2="258.86" stroke="#595959" stroke-width="1.2" stroke-linecap="square"/>
<polygon points="1064.58,258.07 1065.27,260.22 1067.52,260.22 1065.70,261.54 1066.40,263.68 1064.58,262.36 1062.75,263.68 1063.45,261.54 1061.63,260.22 1063.88,260.22" fill="#ff0000" stroke="#ff0000" stroke-width="1" stroke-linejoin="round"/>
<circle cx="1084.38" cy="260.91" r="2.75" fill="#ff0000"/>
<line x1="1114.10" y1="272.08" x2="1114.10" y2="298.52" stroke="#595959" stroke-width="1.2" stroke-linecap="square"/>
<line x1="1114.10" y1="245.64" x2="1114.10" y2="219.20" stroke="#595959" stroke-width="1.2" stroke-linecap="square"/>
<line x1="1109.14" y1="298.52" x2="1119.05" y2="298.52" stroke="#595959" stroke-width="1.2" stroke-linecap="square"/>
<line x1="1109.14" y1="219.20" x2="1119.05" y2="219.20" stroke="#595959" stroke-width="1.2" stroke-linecap="square"/>
<rect x="1104.19" y="245.64" width="19.81" height="26.44" fill="#72b6a1" stroke="#595959" stroke-width="1.2" stroke-linecap="square"/>
<line x1="1104.19" y1="258.86" x2="1124.00" y2="258.86" stroke="#595959" stroke-width="1.2" stroke-linecap="square"/>
<line x1="1133.90" y1="285.30" x2="1133.90" y2="298.52" stroke="#595959" stroke-width="1.2" stroke-linecap="square"/>
<line x1="1133.90" y1="245.64" x2="1133.90" y2="219.20" stroke="#595959" stroke-width="1.2" stroke-linecap="square"/>
<line x1="1128.95" y1="298.52" x2="1138.86" y2="298.52" stroke="#595959" stroke-width="1.2" stroke-linecap="square"/>
<line x1="1128.95" y1="219.20" x2="1138.86" y2="219.20" stroke="#595959" stroke-width="1.2" stroke-linecap="square"/>
<rect x="1124.00" y="245.64" width="19.81" height="39.66" fill="#e99675" stroke="#595959" stroke-width="1.2" stroke-linecap="square"/>
<line x1="1124.00" y1="245.64" x2="1143.81" y2="245.64" stroke="#595959" stroke-width="1.2" stroke-linecap="square"/>
<polygon points="1114.10,254.64 1114.79,256.78 1117.04,256.78 1115.22,258.10 1115.92,260.24 1114.10,258.92 1112.27,260.24 1112.97,258.10 1111.15,256.78 1113.40,256.78" fill="#ff0000" stroke="#ff0000" stroke-width="1" stroke-linejoin="round"/>
<circle cx="1133.90" cy="257.74" r="2.75" fill="#ff0000"/>
<text x="1000.40" y="206.80" font-size="14.02" text-anchor="middle" textLength="137.16" lengthAdjust="spacingAndGlyphs" fill="#262626" stroke="#262626" stroke-width="0.298" >Presentation Format</text>
<text x="833.50" y="301.47" font-size="8.59" text-anchor="end" textLength="5.15" lengthAdjust="spacingAndGlyphs" fill="#262626" stroke="#262626" stroke-width="0.178" >1</text>
<text x="833.50" y="288.25" font-size="8.59" text-anchor="end" textLength="5.15" lengthAdjust="spacingAndGlyphs" fill="#262626" stroke="#262626" stroke-width="0.178" >2</text>
<text x="833.50" y="275.03" font-size="8.59" text-anchor="end" textLength="5.15" lengthAdjust="spacingAndGlyphs" fill="#262626" stroke="#262626" stroke-width="0.178" >3</text>
<text x="833.50" y="261.81" font-size="8.59" text-anchor="end" textLength="5.15" lengthAdjust="spacingAndGlyphs" fill="#262626" stroke="#262626" stroke-width="0.178" >4</text>
<text x="833.50" y="248.59" font-size="8.59" text-anchor="end" textLength="5.15" lengthAdjust="spacingAndGlyphs" fill="#262626" stroke="#262626" stroke-width="0.178" >5</text>
<text x="833.50" y="235.37" font-size="8.59" text-anchor="end" textLength="5.15" lengthAdjust="spacingAndGlyphs" fill="#262626" stroke="#262626" stroke-width="0.178" >6</text>
<text x="833.50" y="222.15" font-size="8.59" text-anchor="end" textLength="5.15" lengthAdjust="spacingAndGlyphs" fill="#262626" stroke="#262626" stroke-width="0.178" >7</text>
<text x="0" y="0" transform="translate(823.40,258.80) rotate(-90)" font-size="12.93" text-anchor="middle" textLength="67.60" lengthAdjust="spacingAndGlyphs" fill="#262626" stroke="#262626" stroke-width="0.268">Trust Score</text>
<g transform="translate(855.90,309.60) rotate(-35.0)">
<text x="0.00" y="6.16" font-size="8.59" text-anchor="end" textLength="41.60" lengthAdjust="spacingAndGlyphs" fill="#262626" stroke="#262626" stroke-width="0.178" >Biological,</text>
<text x="0.00" y="15.46" font-size="8.59" text-anchor="end" textLength="51.42" lengthAdjust="spacingAndGlyphs" fill="#262626" stroke="#262626" stroke-width="0.178" >Medical, and</text>
<text x="0.00" y="24.76" font-size="8.59" text-anchor="end" textLength="26.60" lengthAdjust="spacingAndGlyphs" fill="#262626" stroke="#262626" stroke-width="0.178" >Health</text>
<text x="0.00" y="34.06" font-size="8.59" text-anchor="end" textLength="35.62" lengthAdjust="spacingAndGlyphs" fill="#262626" stroke="#262626" stroke-width="0.178" >Sciences</text>
</g>
<g transform="translate(916.09,309.60) rotate(-35.0)">
<text x="0.00" y="6.16" font-size="8.59" text-anchor="end" textLength="53.53" lengthAdjust="spacingAndGlyphs" fill="#262626" stroke="#262626" stroke-width="0.178" >Business and</text>
<text x="0.00" y="15.46" font-size="8.59" text-anchor="end" textLength="53.36" lengthAdjust="spacingAndGlyphs" fill="#262626" stroke="#262626" stroke-width="0.178" >Management</text>
</g>
<g transform="translate(954.94,309.60) rotate(-35.0)">
<text x="0.00" y="6.16" font-size="8.59" text-anchor="end" textLength="55.19" lengthAdjust="spacingAndGlyphs" fill="#262626" stroke="#262626" stroke-width="0.178" >Mathematical</text>
<text x="0.00" y="15.46" font-size="8.59" text-anchor="end" textLength="50.93" lengthAdjust="spacingAndGlyphs" fill="#262626" stroke="#262626" stroke-width="0.178" >Problem and</text>
<text x="0.00" y="24.76" font-size="8.59" text-anchor="end" textLength="28.39" lengthAdjust="spacingAndGlyphs" fill="#262626" stroke="#262626" stroke-width="0.178" >Logical</text>
<text x="0.00" y="34.06" font-size="8.59" text-anchor="end" textLength="42.05" lengthAdjust="spacingAndGlyphs" fill="#262626" stroke="#262626" stroke-width="0.178" >Reasoning</text>
</g>
<g transform="translate(1015.13,309.60) rotate(-35.0)">
<text x="0.00" y="6.16" font-size="8.59" text-anchor="end" textLength="50.76" lengthAdjust="spacingAndGlyphs" fill="#262626" stroke="#262626" stroke-width="0.178" >Physical and</text>
<text x="0.00" y="15.46" font-size="8.59" text-anchor="end" textLength="48.60" lengthAdjust="spacingAndGlyphs" fill="#262626" stroke="#262626" stroke-width="0.178" >Engineering</text>
</g>
<g transform="translate(1064.65,309.60) rotate(-35.0)">
<text x="0.00" y="6.16" font-size="8.59" text-anchor="end" textLength="45.97" lengthAdjust="spacingAndGlyphs" fill="#262626" stroke="#262626" stroke-width="0.178" >Politics and</text>
<text x="0.00" y="15.46" font-size="8.59" text-anchor="end" textLength="28.82" lengthAdjust="spacingAndGlyphs" fill="#262626" stroke="#262626" stroke-width="0.178" >History</text>
</g>
<g transform="translate(1108.83,309.60) rotate(-35.0)">
<text x="0.00" y="6.16" font-size="8.59" text-anchor="end" textLength="24.02" lengthAdjust="spacingAndGlyphs" fill="#262626" stroke="#262626" stroke-width="0.178" >Social</text>
<text x="0.00" y="15.46" font-size="8.59" text-anchor="end" textLength="53.43" lengthAdjust="spacingAndGlyphs" fill="#262626" stroke="#262626" stroke-width="0.178" >Sciences and</text>
<text x="0.00" y="24.76" font-size="8.59" text-anchor="end" textLength="16.10" lengthAdjust="spacingAndGlyphs" fill="#262626" stroke="#262626" stroke-width="0.178" >Law</text>
</g>
<rect x="111.20" y="359.50" width="19.30" height="6.70" fill="#72b6a1" stroke="#595959" stroke-width="1.2"/>
<text x="137.90" y="366.30" font-size="9.65" text-anchor="start" textLength="9.04" lengthAdjust="spacingAndGlyphs" fill="#262626" stroke="#262626" stroke-width="0.200" >IC</text>
<text x="150.41" y="368.10" font-size="11.56" fill="#262626" stroke="#262626" stroke-width="0.15">*</text>
<rect x="174.40" y="359.50" width="19.30" height="6.70" fill="#e99675" stroke="#595959" stroke-width="1.2"/>
<text x="201.20" y="366.30" font-size="9.65" text-anchor="start" textLength="12.13" lengthAdjust="spacingAndGlyphs" fill="#262626" stroke="#262626" stroke-width="0.200" >CS</text>
<rect x="233.40" y="359.50" width="19.10" height="6.70" fill="#95a3c3" stroke="#595959" stroke-width="1.2"/>
<text x="260.50" y="366.30" font-size="9.65" text-anchor="start" textLength="11.24" lengthAdjust="spacingAndGlyphs" fill="#262626" stroke="#262626" stroke-width="0.200" >EP</text>
<rect x="516.80" y="359.50" width="19.20" height="6.70" fill="#72b6a1" stroke="#595959" stroke-width="1.2"/>
<text x="543.60" y="366.30" font-size="9.65" text-anchor="start" textLength="12.56" lengthAdjust="spacingAndGlyphs" fill="#262626" stroke="#262626" stroke-width="0.200" >NE</text>
<text x="559.63" y="368.10" font-size="11.56" fill="#262626" stroke="#262626" stroke-width="0.15">*</text>
<rect x="583.90" y="359.50" width="19.30" height="6.70" fill="#e99675" stroke="#595959" stroke-width="1.2"/>
<text x="610.60" y="366.30" font-size="9.65" text-anchor="start" textLength="5.78" lengthAdjust="spacingAndGlyphs" fill="#262626" stroke="#262626" stroke-width="0.200" >S</text>
<rect x="636.00" y="359.50" width="19.50" height="6.70" fill="#95a3c3" stroke="#595959" stroke-width="1.2"/>
<text x="663.10" y="366.30" font-size="9.65" text-anchor="start" textLength="11.50" lengthAdjust="spacingAndGlyphs" fill="#262626" stroke="#262626" stroke-width="0.200" >EE</text>
<rect x="947.30" y="359.50" width="19.30" height="6.70" fill="#72b6a1" stroke="#595959" stroke-width="1.2"/>
<text x="974.50" y="366.30" font-size="9.65" text-anchor="start" textLength="11.71" lengthAdjust="spacingAndGlyphs" fill="#262626" stroke="#262626" stroke-width="0.200" >PV</text>
<text x="989.68" y="368.10" font-size="11.56" fill="#262626" stroke="#262626" stroke-width="0.15">*</text>
<rect x="1013.50" y="359.50" width="18.90" height="6.70" fill="#e99675" stroke="#595959" stroke-width="1.2"/>
<text x="1039.90" y="366.30" font-size="9.65" text-anchor="start" textLength="11.97" lengthAdjust="spacingAndGlyphs" fill="#262626" stroke="#262626" stroke-width="0.200" >VE</text>
</svg>
</body></html>
